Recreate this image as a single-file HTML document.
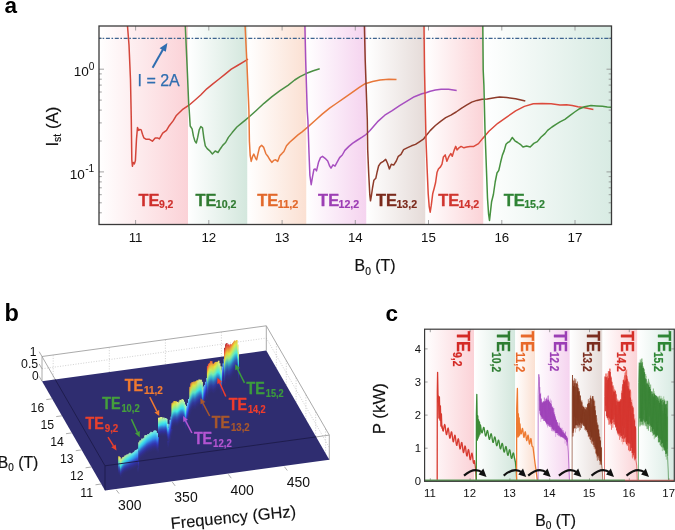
<!DOCTYPE html>
<html><head><meta charset="utf-8"><style>html,body{margin:0;padding:0;background:#fff;width:675px;height:530px;overflow:hidden}svg{display:block;will-change:transform;filter:blur(0.3px)}</style></head>
<body><svg width="675" height="530" viewBox="0 0 675 530"><defs><linearGradient id="ga0" x1="0" x2="1" y1="0" y2="0"><stop offset="0" stop-color="#ffffff"/><stop offset="1" stop-color="#fbd2d7"/></linearGradient><linearGradient id="ga1" x1="0" x2="1" y1="0" y2="0"><stop offset="0" stop-color="#ffffff"/><stop offset="1" stop-color="#d3e7dd"/></linearGradient><linearGradient id="ga2" x1="0" x2="1" y1="0" y2="0"><stop offset="0" stop-color="#ffffff"/><stop offset="1" stop-color="#fbe0d2"/></linearGradient><linearGradient id="ga3" x1="0" x2="1" y1="0" y2="0"><stop offset="0" stop-color="#ffffff"/><stop offset="1" stop-color="#f5d3ef"/></linearGradient><linearGradient id="ga4" x1="0" x2="1" y1="0" y2="0"><stop offset="0" stop-color="#ffffff"/><stop offset="1" stop-color="#e5dbd8"/></linearGradient><linearGradient id="ga5" x1="0" x2="1" y1="0" y2="0"><stop offset="0" stop-color="#ffffff"/><stop offset="1" stop-color="#fbd3d7"/></linearGradient><linearGradient id="ga6" x1="0" x2="1" y1="0" y2="0"><stop offset="0" stop-color="#ffffff"/><stop offset="1" stop-color="#d8ebe3"/></linearGradient><clipPath id="navyclip"><polygon points="105.0,490.5 329.3,459.8 266.3,350.5 42.0,381.2"/></clipPath><linearGradient id="s0" gradientUnits="userSpaceOnUse" x1="0" y1="452.9" x2="0" y2="472.9"><stop offset="0.00" stop-color="#71caf4"/><stop offset="0.12" stop-color="#57a8f2"/><stop offset="0.25" stop-color="#3e7ff0"/><stop offset="0.38" stop-color="#345bf0"/><stop offset="0.50" stop-color="#333bd1"/><stop offset="0.62" stop-color="#3231ac"/><stop offset="0.75" stop-color="#312f8d"/><stop offset="0.88" stop-color="#302e7a"/><stop offset="1.00" stop-color="#2f2d70"/></linearGradient><linearGradient id="s1" gradientUnits="userSpaceOnUse" x1="0" y1="452.1" x2="0" y2="472.1"><stop offset="0.00" stop-color="#71caf4"/><stop offset="0.12" stop-color="#57a8f2"/><stop offset="0.25" stop-color="#3e7ff0"/><stop offset="0.38" stop-color="#345bf0"/><stop offset="0.50" stop-color="#333bd1"/><stop offset="0.62" stop-color="#3231ac"/><stop offset="0.75" stop-color="#312f8d"/><stop offset="0.88" stop-color="#302e7a"/><stop offset="1.00" stop-color="#2f2d70"/></linearGradient><linearGradient id="s2" gradientUnits="userSpaceOnUse" x1="0" y1="433.5" x2="0" y2="453.5"><stop offset="0.00" stop-color="#71caf4"/><stop offset="0.12" stop-color="#57a8f2"/><stop offset="0.25" stop-color="#3e7ff0"/><stop offset="0.38" stop-color="#345bf0"/><stop offset="0.50" stop-color="#333bd1"/><stop offset="0.62" stop-color="#3231ac"/><stop offset="0.75" stop-color="#312f8d"/><stop offset="0.88" stop-color="#302e7a"/><stop offset="1.00" stop-color="#2f2d70"/></linearGradient><linearGradient id="s3" gradientUnits="userSpaceOnUse" x1="0" y1="429.2" x2="0" y2="449.2"><stop offset="0.00" stop-color="#71caf4"/><stop offset="0.12" stop-color="#57a8f2"/><stop offset="0.25" stop-color="#3e7ff0"/><stop offset="0.38" stop-color="#345bf0"/><stop offset="0.50" stop-color="#333bd1"/><stop offset="0.62" stop-color="#3231ac"/><stop offset="0.75" stop-color="#312f8d"/><stop offset="0.88" stop-color="#302e7a"/><stop offset="1.00" stop-color="#2f2d70"/></linearGradient><linearGradient id="s4" gradientUnits="userSpaceOnUse" x1="0" y1="428.1" x2="0" y2="448.1"><stop offset="0.00" stop-color="#71caf4"/><stop offset="0.12" stop-color="#57a8f2"/><stop offset="0.25" stop-color="#3e7ff0"/><stop offset="0.38" stop-color="#345bf0"/><stop offset="0.50" stop-color="#333bd1"/><stop offset="0.62" stop-color="#3231ac"/><stop offset="0.75" stop-color="#312f8d"/><stop offset="0.88" stop-color="#302e7a"/><stop offset="1.00" stop-color="#2f2d70"/></linearGradient><linearGradient id="s5" gradientUnits="userSpaceOnUse" x1="0" y1="424.3" x2="0" y2="444.3"><stop offset="0.00" stop-color="#71caf4"/><stop offset="0.12" stop-color="#57a8f2"/><stop offset="0.25" stop-color="#3e7ff0"/><stop offset="0.38" stop-color="#345bf0"/><stop offset="0.50" stop-color="#333bd1"/><stop offset="0.62" stop-color="#3231ac"/><stop offset="0.75" stop-color="#312f8d"/><stop offset="0.88" stop-color="#302e7a"/><stop offset="1.00" stop-color="#2f2d70"/></linearGradient><linearGradient id="s6" gradientUnits="userSpaceOnUse" x1="0" y1="420.5" x2="0" y2="440.5"><stop offset="0.00" stop-color="#71caf4"/><stop offset="0.12" stop-color="#57a8f2"/><stop offset="0.25" stop-color="#3e7ff0"/><stop offset="0.38" stop-color="#345bf0"/><stop offset="0.50" stop-color="#333bd1"/><stop offset="0.62" stop-color="#3231ac"/><stop offset="0.75" stop-color="#312f8d"/><stop offset="0.88" stop-color="#302e7a"/><stop offset="1.00" stop-color="#2f2d70"/></linearGradient><linearGradient id="s7" gradientUnits="userSpaceOnUse" x1="0" y1="416.7" x2="0" y2="436.7"><stop offset="0.00" stop-color="#71caf4"/><stop offset="0.12" stop-color="#57a8f2"/><stop offset="0.25" stop-color="#3e7ff0"/><stop offset="0.38" stop-color="#345bf0"/><stop offset="0.50" stop-color="#333bd1"/><stop offset="0.62" stop-color="#3231ac"/><stop offset="0.75" stop-color="#312f8d"/><stop offset="0.88" stop-color="#302e7a"/><stop offset="1.00" stop-color="#2f2d70"/></linearGradient><linearGradient id="s8" gradientUnits="userSpaceOnUse" x1="0" y1="414.4" x2="0" y2="434.4"><stop offset="0.00" stop-color="#71caf4"/><stop offset="0.12" stop-color="#57a8f2"/><stop offset="0.25" stop-color="#3e7ff0"/><stop offset="0.38" stop-color="#345bf0"/><stop offset="0.50" stop-color="#333bd1"/><stop offset="0.62" stop-color="#3231ac"/><stop offset="0.75" stop-color="#312f8d"/><stop offset="0.88" stop-color="#302e7a"/><stop offset="1.00" stop-color="#2f2d70"/></linearGradient><linearGradient id="s9" gradientUnits="userSpaceOnUse" x1="0" y1="410.3" x2="0" y2="430.3"><stop offset="0.00" stop-color="#71caf4"/><stop offset="0.12" stop-color="#57a8f2"/><stop offset="0.25" stop-color="#3e7ff0"/><stop offset="0.38" stop-color="#345bf0"/><stop offset="0.50" stop-color="#333bd1"/><stop offset="0.62" stop-color="#3231ac"/><stop offset="0.75" stop-color="#312f8d"/><stop offset="0.88" stop-color="#302e7a"/><stop offset="1.00" stop-color="#2f2d70"/></linearGradient><linearGradient id="s10" gradientUnits="userSpaceOnUse" x1="0" y1="406.8" x2="0" y2="426.8"><stop offset="0.00" stop-color="#71caf4"/><stop offset="0.12" stop-color="#57a8f2"/><stop offset="0.25" stop-color="#3e7ff0"/><stop offset="0.38" stop-color="#345bf0"/><stop offset="0.50" stop-color="#333bd1"/><stop offset="0.62" stop-color="#3231ac"/><stop offset="0.75" stop-color="#312f8d"/><stop offset="0.88" stop-color="#302e7a"/><stop offset="1.00" stop-color="#2f2d70"/></linearGradient><linearGradient id="s11" gradientUnits="userSpaceOnUse" x1="0" y1="403.3" x2="0" y2="423.3"><stop offset="0.00" stop-color="#71caf4"/><stop offset="0.12" stop-color="#57a8f2"/><stop offset="0.25" stop-color="#3e7ff0"/><stop offset="0.38" stop-color="#345bf0"/><stop offset="0.50" stop-color="#333bd1"/><stop offset="0.62" stop-color="#3231ac"/><stop offset="0.75" stop-color="#312f8d"/><stop offset="0.88" stop-color="#302e7a"/><stop offset="1.00" stop-color="#2f2d70"/></linearGradient><linearGradient id="s12" gradientUnits="userSpaceOnUse" x1="0" y1="399.8" x2="0" y2="419.8"><stop offset="0.00" stop-color="#71caf4"/><stop offset="0.12" stop-color="#57a8f2"/><stop offset="0.25" stop-color="#3e7ff0"/><stop offset="0.38" stop-color="#345bf0"/><stop offset="0.50" stop-color="#333bd1"/><stop offset="0.62" stop-color="#3231ac"/><stop offset="0.75" stop-color="#312f8d"/><stop offset="0.88" stop-color="#302e7a"/><stop offset="1.00" stop-color="#2f2d70"/></linearGradient><linearGradient id="s13" gradientUnits="userSpaceOnUse" x1="0" y1="397.0" x2="0" y2="417.0"><stop offset="0.00" stop-color="#71caf4"/><stop offset="0.12" stop-color="#57a8f2"/><stop offset="0.25" stop-color="#3e7ff0"/><stop offset="0.38" stop-color="#345bf0"/><stop offset="0.50" stop-color="#333bd1"/><stop offset="0.62" stop-color="#3231ac"/><stop offset="0.75" stop-color="#312f8d"/><stop offset="0.88" stop-color="#302e7a"/><stop offset="1.00" stop-color="#2f2d70"/></linearGradient><linearGradient id="s14" gradientUnits="userSpaceOnUse" x1="0" y1="390.4" x2="0" y2="410.4"><stop offset="0.00" stop-color="#71caf4"/><stop offset="0.12" stop-color="#57a8f2"/><stop offset="0.25" stop-color="#3e7ff0"/><stop offset="0.38" stop-color="#345bf0"/><stop offset="0.50" stop-color="#333bd1"/><stop offset="0.62" stop-color="#3231ac"/><stop offset="0.75" stop-color="#312f8d"/><stop offset="0.88" stop-color="#302e7a"/><stop offset="1.00" stop-color="#2f2d70"/></linearGradient><linearGradient id="s15" gradientUnits="userSpaceOnUse" x1="0" y1="387.3" x2="0" y2="407.3"><stop offset="0.00" stop-color="#71caf4"/><stop offset="0.12" stop-color="#57a8f2"/><stop offset="0.25" stop-color="#3e7ff0"/><stop offset="0.38" stop-color="#345bf0"/><stop offset="0.50" stop-color="#333bd1"/><stop offset="0.62" stop-color="#3231ac"/><stop offset="0.75" stop-color="#312f8d"/><stop offset="0.88" stop-color="#302e7a"/><stop offset="1.00" stop-color="#2f2d70"/></linearGradient><linearGradient id="s16" gradientUnits="userSpaceOnUse" x1="0" y1="384.2" x2="0" y2="404.2"><stop offset="0.00" stop-color="#71caf4"/><stop offset="0.12" stop-color="#57a8f2"/><stop offset="0.25" stop-color="#3e7ff0"/><stop offset="0.38" stop-color="#345bf0"/><stop offset="0.50" stop-color="#333bd1"/><stop offset="0.62" stop-color="#3231ac"/><stop offset="0.75" stop-color="#312f8d"/><stop offset="0.88" stop-color="#302e7a"/><stop offset="1.00" stop-color="#2f2d70"/></linearGradient><linearGradient id="s17" gradientUnits="userSpaceOnUse" x1="0" y1="381.0" x2="0" y2="401.0"><stop offset="0.00" stop-color="#71caf4"/><stop offset="0.12" stop-color="#57a8f2"/><stop offset="0.25" stop-color="#3e7ff0"/><stop offset="0.38" stop-color="#345bf0"/><stop offset="0.50" stop-color="#333bd1"/><stop offset="0.62" stop-color="#3231ac"/><stop offset="0.75" stop-color="#312f8d"/><stop offset="0.88" stop-color="#302e7a"/><stop offset="1.00" stop-color="#2f2d70"/></linearGradient><linearGradient id="s18" gradientUnits="userSpaceOnUse" x1="0" y1="377.9" x2="0" y2="397.9"><stop offset="0.00" stop-color="#71caf4"/><stop offset="0.12" stop-color="#57a8f2"/><stop offset="0.25" stop-color="#3e7ff0"/><stop offset="0.38" stop-color="#345bf0"/><stop offset="0.50" stop-color="#333bd1"/><stop offset="0.62" stop-color="#3231ac"/><stop offset="0.75" stop-color="#312f8d"/><stop offset="0.88" stop-color="#302e7a"/><stop offset="1.00" stop-color="#2f2d70"/></linearGradient><linearGradient id="s19" gradientUnits="userSpaceOnUse" x1="0" y1="376.2" x2="0" y2="396.2"><stop offset="0.00" stop-color="#71caf4"/><stop offset="0.12" stop-color="#57a8f2"/><stop offset="0.25" stop-color="#3e7ff0"/><stop offset="0.38" stop-color="#345bf0"/><stop offset="0.50" stop-color="#333bd1"/><stop offset="0.62" stop-color="#3231ac"/><stop offset="0.75" stop-color="#312f8d"/><stop offset="0.88" stop-color="#302e7a"/><stop offset="1.00" stop-color="#2f2d70"/></linearGradient><linearGradient id="s20" gradientUnits="userSpaceOnUse" x1="0" y1="371.9" x2="0" y2="391.9"><stop offset="0.00" stop-color="#71caf4"/><stop offset="0.12" stop-color="#57a8f2"/><stop offset="0.25" stop-color="#3e7ff0"/><stop offset="0.38" stop-color="#345bf0"/><stop offset="0.50" stop-color="#333bd1"/><stop offset="0.62" stop-color="#3231ac"/><stop offset="0.75" stop-color="#312f8d"/><stop offset="0.88" stop-color="#302e7a"/><stop offset="1.00" stop-color="#2f2d70"/></linearGradient><linearGradient id="s21" gradientUnits="userSpaceOnUse" x1="0" y1="367.7" x2="0" y2="387.7"><stop offset="0.00" stop-color="#71caf4"/><stop offset="0.12" stop-color="#57a8f2"/><stop offset="0.25" stop-color="#3e7ff0"/><stop offset="0.38" stop-color="#345bf0"/><stop offset="0.50" stop-color="#333bd1"/><stop offset="0.62" stop-color="#3231ac"/><stop offset="0.75" stop-color="#312f8d"/><stop offset="0.88" stop-color="#302e7a"/><stop offset="1.00" stop-color="#2f2d70"/></linearGradient><linearGradient id="s22" gradientUnits="userSpaceOnUse" x1="0" y1="363.5" x2="0" y2="383.5"><stop offset="0.00" stop-color="#71caf4"/><stop offset="0.12" stop-color="#57a8f2"/><stop offset="0.25" stop-color="#3e7ff0"/><stop offset="0.38" stop-color="#345bf0"/><stop offset="0.50" stop-color="#333bd1"/><stop offset="0.62" stop-color="#3231ac"/><stop offset="0.75" stop-color="#312f8d"/><stop offset="0.88" stop-color="#302e7a"/><stop offset="1.00" stop-color="#2f2d70"/></linearGradient><linearGradient id="s23" gradientUnits="userSpaceOnUse" x1="0" y1="359.7" x2="0" y2="379.7"><stop offset="0.00" stop-color="#71caf4"/><stop offset="0.12" stop-color="#57a8f2"/><stop offset="0.25" stop-color="#3e7ff0"/><stop offset="0.38" stop-color="#345bf0"/><stop offset="0.50" stop-color="#333bd1"/><stop offset="0.62" stop-color="#3231ac"/><stop offset="0.75" stop-color="#312f8d"/><stop offset="0.88" stop-color="#302e7a"/><stop offset="1.00" stop-color="#2f2d70"/></linearGradient><linearGradient id="s24" gradientUnits="userSpaceOnUse" x1="0" y1="456.9" x2="0" y2="474.4"><stop offset="0.00" stop-color="#ead03a"/><stop offset="0.12" stop-color="#c2ea62"/><stop offset="0.25" stop-color="#81eaa3"/><stop offset="0.38" stop-color="#41eae2"/><stop offset="0.50" stop-color="#3398d1"/><stop offset="0.62" stop-color="#3258b5"/><stop offset="0.75" stop-color="#31349d"/><stop offset="0.88" stop-color="#302e7f"/><stop offset="1.00" stop-color="#2f2d70"/></linearGradient><linearGradient id="s25" gradientUnits="userSpaceOnUse" x1="0" y1="457.8" x2="0" y2="475.3"><stop offset="0.00" stop-color="#f0e675"/><stop offset="0.12" stop-color="#c5ee85"/><stop offset="0.25" stop-color="#80ebaf"/><stop offset="0.38" stop-color="#3beae9"/><stop offset="0.50" stop-color="#3394d1"/><stop offset="0.62" stop-color="#3256b5"/><stop offset="0.75" stop-color="#31339d"/><stop offset="0.88" stop-color="#302e7e"/><stop offset="1.00" stop-color="#2f2d70"/></linearGradient><linearGradient id="s26" gradientUnits="userSpaceOnUse" x1="0" y1="460.3" x2="0" y2="477.8"><stop offset="0.00" stop-color="#f0ee75"/><stop offset="0.12" stop-color="#bdee8d"/><stop offset="0.25" stop-color="#78ebb7"/><stop offset="0.38" stop-color="#34eaef"/><stop offset="0.50" stop-color="#3390d1"/><stop offset="0.62" stop-color="#3254b5"/><stop offset="0.75" stop-color="#31329d"/><stop offset="0.88" stop-color="#302e7e"/><stop offset="1.00" stop-color="#2f2d70"/></linearGradient><linearGradient id="s27" gradientUnits="userSpaceOnUse" x1="0" y1="458.5" x2="0" y2="476.0"><stop offset="0.00" stop-color="#ebf07a"/><stop offset="0.12" stop-color="#b5ee95"/><stop offset="0.25" stop-color="#70ebbe"/><stop offset="0.38" stop-color="#34e4f0"/><stop offset="0.50" stop-color="#338cd1"/><stop offset="0.62" stop-color="#3252b5"/><stop offset="0.75" stop-color="#31329d"/><stop offset="0.88" stop-color="#302e7e"/><stop offset="1.00" stop-color="#2f2d70"/></linearGradient><linearGradient id="s28" gradientUnits="userSpaceOnUse" x1="0" y1="457.3" x2="0" y2="474.8"><stop offset="0.00" stop-color="#e3f082"/><stop offset="0.12" stop-color="#adee9d"/><stop offset="0.25" stop-color="#68ebc6"/><stop offset="0.38" stop-color="#34ddf0"/><stop offset="0.50" stop-color="#3388d1"/><stop offset="0.62" stop-color="#3250b5"/><stop offset="0.75" stop-color="#31319d"/><stop offset="0.88" stop-color="#302e7e"/><stop offset="1.00" stop-color="#2f2d70"/></linearGradient><linearGradient id="s29" gradientUnits="userSpaceOnUse" x1="0" y1="456.3" x2="0" y2="473.8"><stop offset="0.00" stop-color="#dbf08a"/><stop offset="0.12" stop-color="#a5eea5"/><stop offset="0.25" stop-color="#61ebce"/><stop offset="0.38" stop-color="#34d6f0"/><stop offset="0.50" stop-color="#3384d1"/><stop offset="0.62" stop-color="#324eb5"/><stop offset="0.75" stop-color="#31309d"/><stop offset="0.88" stop-color="#302e7e"/><stop offset="1.00" stop-color="#2f2d70"/></linearGradient><linearGradient id="s30" gradientUnits="userSpaceOnUse" x1="0" y1="455.6" x2="0" y2="473.1"><stop offset="0.00" stop-color="#d3f092"/><stop offset="0.12" stop-color="#9deead"/><stop offset="0.25" stop-color="#59ebd5"/><stop offset="0.38" stop-color="#34d0f0"/><stop offset="0.50" stop-color="#3380d1"/><stop offset="0.62" stop-color="#324cb5"/><stop offset="0.75" stop-color="#312f9c"/><stop offset="0.88" stop-color="#302e7d"/><stop offset="1.00" stop-color="#2f2d70"/></linearGradient><linearGradient id="s31" gradientUnits="userSpaceOnUse" x1="0" y1="455.1" x2="0" y2="472.6"><stop offset="0.00" stop-color="#cbf09a"/><stop offset="0.12" stop-color="#95eeb5"/><stop offset="0.25" stop-color="#51ebdd"/><stop offset="0.38" stop-color="#34c9f0"/><stop offset="0.50" stop-color="#337cd1"/><stop offset="0.62" stop-color="#324ab5"/><stop offset="0.75" stop-color="#312f9c"/><stop offset="0.88" stop-color="#302e7d"/><stop offset="1.00" stop-color="#2f2d70"/></linearGradient><linearGradient id="s32" gradientUnits="userSpaceOnUse" x1="0" y1="454.6" x2="0" y2="472.1"><stop offset="0.00" stop-color="#c4f0a1"/><stop offset="0.12" stop-color="#8deebd"/><stop offset="0.25" stop-color="#4aebe5"/><stop offset="0.38" stop-color="#34c2f0"/><stop offset="0.50" stop-color="#3378d1"/><stop offset="0.62" stop-color="#3248b5"/><stop offset="0.75" stop-color="#312f9b"/><stop offset="0.88" stop-color="#302e7d"/><stop offset="1.00" stop-color="#2f2d70"/></linearGradient><linearGradient id="s33" gradientUnits="userSpaceOnUse" x1="0" y1="454.2" x2="0" y2="471.7"><stop offset="0.00" stop-color="#bcf0a9"/><stop offset="0.12" stop-color="#85eec5"/><stop offset="0.25" stop-color="#42ebed"/><stop offset="0.38" stop-color="#34bcf0"/><stop offset="0.50" stop-color="#3374d1"/><stop offset="0.62" stop-color="#3246b5"/><stop offset="0.75" stop-color="#312f9a"/><stop offset="0.88" stop-color="#302e7d"/><stop offset="1.00" stop-color="#2f2d70"/></linearGradient><linearGradient id="s34" gradientUnits="userSpaceOnUse" x1="0" y1="453.8" x2="0" y2="471.3"><stop offset="0.00" stop-color="#b4f0b1"/><stop offset="0.12" stop-color="#7deecd"/><stop offset="0.25" stop-color="#3ee7f0"/><stop offset="0.38" stop-color="#34b5f0"/><stop offset="0.50" stop-color="#3370d1"/><stop offset="0.62" stop-color="#3243b5"/><stop offset="0.75" stop-color="#312f99"/><stop offset="0.88" stop-color="#302e7d"/><stop offset="1.00" stop-color="#2f2d70"/></linearGradient><linearGradient id="s35" gradientUnits="userSpaceOnUse" x1="0" y1="453.3" x2="0" y2="470.8"><stop offset="0.00" stop-color="#acf0b9"/><stop offset="0.12" stop-color="#75eed5"/><stop offset="0.25" stop-color="#3edff0"/><stop offset="0.38" stop-color="#34aef0"/><stop offset="0.50" stop-color="#336cd1"/><stop offset="0.62" stop-color="#3241b5"/><stop offset="0.75" stop-color="#312f98"/><stop offset="0.88" stop-color="#302e7c"/><stop offset="1.00" stop-color="#2f2d70"/></linearGradient><linearGradient id="s36" gradientUnits="userSpaceOnUse" x1="0" y1="452.9" x2="0" y2="470.4"><stop offset="0.00" stop-color="#a4f0c1"/><stop offset="0.12" stop-color="#6deedd"/><stop offset="0.25" stop-color="#3ed8f0"/><stop offset="0.38" stop-color="#34a8f0"/><stop offset="0.50" stop-color="#3368d1"/><stop offset="0.62" stop-color="#323fb5"/><stop offset="0.75" stop-color="#312f97"/><stop offset="0.88" stop-color="#302e7c"/><stop offset="1.00" stop-color="#2f2d70"/></linearGradient><linearGradient id="s37" gradientUnits="userSpaceOnUse" x1="0" y1="452.5" x2="0" y2="470.0"><stop offset="0.00" stop-color="#9df0c8"/><stop offset="0.12" stop-color="#65eee5"/><stop offset="0.25" stop-color="#3ed0f0"/><stop offset="0.38" stop-color="#34a1f0"/><stop offset="0.50" stop-color="#3364d1"/><stop offset="0.62" stop-color="#323db5"/><stop offset="0.75" stop-color="#312f96"/><stop offset="0.88" stop-color="#302e7c"/><stop offset="1.00" stop-color="#2f2d70"/></linearGradient><linearGradient id="s38" gradientUnits="userSpaceOnUse" x1="0" y1="452.1" x2="0" y2="469.6"><stop offset="0.00" stop-color="#95f0d0"/><stop offset="0.12" stop-color="#5deeec"/><stop offset="0.25" stop-color="#3ec8f0"/><stop offset="0.38" stop-color="#349af0"/><stop offset="0.50" stop-color="#3360d1"/><stop offset="0.62" stop-color="#323bb5"/><stop offset="0.75" stop-color="#312f96"/><stop offset="0.88" stop-color="#302e7c"/><stop offset="1.00" stop-color="#2f2d70"/></linearGradient><linearGradient id="s39" gradientUnits="userSpaceOnUse" x1="0" y1="451.6" x2="0" y2="469.1"><stop offset="0.00" stop-color="#8df0d8"/><stop offset="0.12" stop-color="#57ecf2"/><stop offset="0.25" stop-color="#3ec1f0"/><stop offset="0.38" stop-color="#3494f0"/><stop offset="0.50" stop-color="#335cd1"/><stop offset="0.62" stop-color="#3239b5"/><stop offset="0.75" stop-color="#312f95"/><stop offset="0.88" stop-color="#302e7c"/><stop offset="1.00" stop-color="#2f2d70"/></linearGradient><linearGradient id="s40" gradientUnits="userSpaceOnUse" x1="0" y1="451.1" x2="0" y2="468.6"><stop offset="0.00" stop-color="#85f0e0"/><stop offset="0.12" stop-color="#57e4f2"/><stop offset="0.25" stop-color="#3eb9f0"/><stop offset="0.38" stop-color="#348df0"/><stop offset="0.50" stop-color="#3358d1"/><stop offset="0.62" stop-color="#3237b5"/><stop offset="0.75" stop-color="#312f94"/><stop offset="0.88" stop-color="#302e7b"/><stop offset="1.00" stop-color="#2f2d70"/></linearGradient><linearGradient id="s41" gradientUnits="userSpaceOnUse" x1="0" y1="450.6" x2="0" y2="468.1"><stop offset="0.00" stop-color="#7df0e8"/><stop offset="0.12" stop-color="#57dcf2"/><stop offset="0.25" stop-color="#3eb1f0"/><stop offset="0.38" stop-color="#3486f0"/><stop offset="0.50" stop-color="#3354d1"/><stop offset="0.62" stop-color="#3235b5"/><stop offset="0.75" stop-color="#312f93"/><stop offset="0.88" stop-color="#302e7b"/><stop offset="1.00" stop-color="#2f2d70"/></linearGradient><linearGradient id="s42" gradientUnits="userSpaceOnUse" x1="0" y1="450.1" x2="0" y2="467.6"><stop offset="0.00" stop-color="#76f0ef"/><stop offset="0.12" stop-color="#57d4f2"/><stop offset="0.25" stop-color="#3ea9f0"/><stop offset="0.38" stop-color="#3480f0"/><stop offset="0.50" stop-color="#3350d1"/><stop offset="0.62" stop-color="#3233b5"/><stop offset="0.75" stop-color="#312f92"/><stop offset="0.88" stop-color="#302e7b"/><stop offset="1.00" stop-color="#2f2d70"/></linearGradient><linearGradient id="s43" gradientUnits="userSpaceOnUse" x1="0" y1="449.7" x2="0" y2="467.2"><stop offset="0.00" stop-color="#71edf4"/><stop offset="0.12" stop-color="#57ccf2"/><stop offset="0.25" stop-color="#3ea2f0"/><stop offset="0.38" stop-color="#3479f0"/><stop offset="0.50" stop-color="#334cd1"/><stop offset="0.62" stop-color="#3231b5"/><stop offset="0.75" stop-color="#312f91"/><stop offset="0.88" stop-color="#302e7b"/><stop offset="1.00" stop-color="#2f2d70"/></linearGradient><linearGradient id="s44" gradientUnits="userSpaceOnUse" x1="0" y1="441.9" x2="0" y2="460.6"><stop offset="0.00" stop-color="#caf09b"/><stop offset="0.12" stop-color="#93eeb6"/><stop offset="0.25" stop-color="#50ebdf"/><stop offset="0.38" stop-color="#34c8f0"/><stop offset="0.50" stop-color="#337bd1"/><stop offset="0.62" stop-color="#3249b5"/><stop offset="0.75" stop-color="#312f9b"/><stop offset="0.88" stop-color="#302e7d"/><stop offset="1.00" stop-color="#2f2d70"/></linearGradient><linearGradient id="s45" gradientUnits="userSpaceOnUse" x1="0" y1="440.9" x2="0" y2="459.7"><stop offset="0.00" stop-color="#c6f0a0"/><stop offset="0.12" stop-color="#8feebb"/><stop offset="0.25" stop-color="#4bebe3"/><stop offset="0.38" stop-color="#34c4f0"/><stop offset="0.50" stop-color="#3379d1"/><stop offset="0.62" stop-color="#3248b5"/><stop offset="0.75" stop-color="#312f9b"/><stop offset="0.88" stop-color="#302e7d"/><stop offset="1.00" stop-color="#2f2d70"/></linearGradient><linearGradient id="s46" gradientUnits="userSpaceOnUse" x1="0" y1="439.8" x2="0" y2="458.7"><stop offset="0.00" stop-color="#c1f0a4"/><stop offset="0.12" stop-color="#8aeebf"/><stop offset="0.25" stop-color="#47ebe7"/><stop offset="0.38" stop-color="#34c0f0"/><stop offset="0.50" stop-color="#3377d1"/><stop offset="0.62" stop-color="#3247b5"/><stop offset="0.75" stop-color="#312f9a"/><stop offset="0.88" stop-color="#302e7d"/><stop offset="1.00" stop-color="#2f2d70"/></linearGradient><linearGradient id="s47" gradientUnits="userSpaceOnUse" x1="0" y1="438.9" x2="0" y2="457.9"><stop offset="0.00" stop-color="#bdf0a8"/><stop offset="0.12" stop-color="#86eec4"/><stop offset="0.25" stop-color="#43ebec"/><stop offset="0.38" stop-color="#34bcf0"/><stop offset="0.50" stop-color="#3374d1"/><stop offset="0.62" stop-color="#3246b5"/><stop offset="0.75" stop-color="#312f9a"/><stop offset="0.88" stop-color="#302e7d"/><stop offset="1.00" stop-color="#2f2d70"/></linearGradient><linearGradient id="s48" gradientUnits="userSpaceOnUse" x1="0" y1="438.1" x2="0" y2="457.1"><stop offset="0.00" stop-color="#b8f0ad"/><stop offset="0.12" stop-color="#81eec9"/><stop offset="0.25" stop-color="#3eebf0"/><stop offset="0.38" stop-color="#34b8f0"/><stop offset="0.50" stop-color="#3372d1"/><stop offset="0.62" stop-color="#3245b5"/><stop offset="0.75" stop-color="#312f99"/><stop offset="0.88" stop-color="#302e7d"/><stop offset="1.00" stop-color="#2f2d70"/></linearGradient><linearGradient id="s49" gradientUnits="userSpaceOnUse" x1="0" y1="437.2" x2="0" y2="456.3"><stop offset="0.00" stop-color="#b4f0b1"/><stop offset="0.12" stop-color="#7deecd"/><stop offset="0.25" stop-color="#3ee7f0"/><stop offset="0.38" stop-color="#34b5f0"/><stop offset="0.50" stop-color="#3370d1"/><stop offset="0.62" stop-color="#3243b5"/><stop offset="0.75" stop-color="#312f99"/><stop offset="0.88" stop-color="#302e7d"/><stop offset="1.00" stop-color="#2f2d70"/></linearGradient><linearGradient id="s50" gradientUnits="userSpaceOnUse" x1="0" y1="436.4" x2="0" y2="455.6"><stop offset="0.00" stop-color="#aff0b6"/><stop offset="0.12" stop-color="#78eed2"/><stop offset="0.25" stop-color="#3ee2f0"/><stop offset="0.38" stop-color="#34b1f0"/><stop offset="0.50" stop-color="#336ed1"/><stop offset="0.62" stop-color="#3242b5"/><stop offset="0.75" stop-color="#312f98"/><stop offset="0.88" stop-color="#302e7d"/><stop offset="1.00" stop-color="#2f2d70"/></linearGradient><linearGradient id="s51" gradientUnits="userSpaceOnUse" x1="0" y1="435.6" x2="0" y2="454.8"><stop offset="0.00" stop-color="#abf0ba"/><stop offset="0.12" stop-color="#74eed6"/><stop offset="0.25" stop-color="#3edef0"/><stop offset="0.38" stop-color="#34adf0"/><stop offset="0.50" stop-color="#336bd1"/><stop offset="0.62" stop-color="#3241b5"/><stop offset="0.75" stop-color="#312f98"/><stop offset="0.88" stop-color="#302e7c"/><stop offset="1.00" stop-color="#2f2d70"/></linearGradient><linearGradient id="s52" gradientUnits="userSpaceOnUse" x1="0" y1="434.8" x2="0" y2="454.0"><stop offset="0.00" stop-color="#a6f0bf"/><stop offset="0.12" stop-color="#6feedb"/><stop offset="0.25" stop-color="#3edaf0"/><stop offset="0.38" stop-color="#34a9f0"/><stop offset="0.50" stop-color="#3369d1"/><stop offset="0.62" stop-color="#3240b5"/><stop offset="0.75" stop-color="#312f97"/><stop offset="0.88" stop-color="#302e7c"/><stop offset="1.00" stop-color="#2f2d70"/></linearGradient><linearGradient id="s53" gradientUnits="userSpaceOnUse" x1="0" y1="434.1" x2="0" y2="453.5"><stop offset="0.00" stop-color="#a2f0c3"/><stop offset="0.12" stop-color="#6beedf"/><stop offset="0.25" stop-color="#3ed5f0"/><stop offset="0.38" stop-color="#34a5f0"/><stop offset="0.50" stop-color="#3367d1"/><stop offset="0.62" stop-color="#323fb5"/><stop offset="0.75" stop-color="#312f97"/><stop offset="0.88" stop-color="#302e7c"/><stop offset="1.00" stop-color="#2f2d70"/></linearGradient><linearGradient id="s54" gradientUnits="userSpaceOnUse" x1="0" y1="433.6" x2="0" y2="453.0"><stop offset="0.00" stop-color="#9df0c8"/><stop offset="0.12" stop-color="#66eee4"/><stop offset="0.25" stop-color="#3ed1f0"/><stop offset="0.38" stop-color="#34a2f0"/><stop offset="0.50" stop-color="#3365d1"/><stop offset="0.62" stop-color="#323db5"/><stop offset="0.75" stop-color="#312f97"/><stop offset="0.88" stop-color="#302e7c"/><stop offset="1.00" stop-color="#2f2d70"/></linearGradient><linearGradient id="s55" gradientUnits="userSpaceOnUse" x1="0" y1="433.1" x2="0" y2="452.6"><stop offset="0.00" stop-color="#99f0cc"/><stop offset="0.12" stop-color="#61eee8"/><stop offset="0.25" stop-color="#3eccf0"/><stop offset="0.38" stop-color="#349ef0"/><stop offset="0.50" stop-color="#3362d1"/><stop offset="0.62" stop-color="#323cb5"/><stop offset="0.75" stop-color="#312f96"/><stop offset="0.88" stop-color="#302e7c"/><stop offset="1.00" stop-color="#2f2d70"/></linearGradient><linearGradient id="s56" gradientUnits="userSpaceOnUse" x1="0" y1="432.6" x2="0" y2="452.2"><stop offset="0.00" stop-color="#94f0d1"/><stop offset="0.12" stop-color="#5deeed"/><stop offset="0.25" stop-color="#3ec8f0"/><stop offset="0.38" stop-color="#349af0"/><stop offset="0.50" stop-color="#3360d1"/><stop offset="0.62" stop-color="#323bb5"/><stop offset="0.75" stop-color="#312f96"/><stop offset="0.88" stop-color="#302e7c"/><stop offset="1.00" stop-color="#2f2d70"/></linearGradient><linearGradient id="s57" gradientUnits="userSpaceOnUse" x1="0" y1="432.1" x2="0" y2="451.7"><stop offset="0.00" stop-color="#90f0d5"/><stop offset="0.12" stop-color="#58eef1"/><stop offset="0.25" stop-color="#3ec3f0"/><stop offset="0.38" stop-color="#3496f0"/><stop offset="0.50" stop-color="#335ed1"/><stop offset="0.62" stop-color="#323ab5"/><stop offset="0.75" stop-color="#312f95"/><stop offset="0.88" stop-color="#302e7c"/><stop offset="1.00" stop-color="#2f2d70"/></linearGradient><linearGradient id="s58" gradientUnits="userSpaceOnUse" x1="0" y1="431.6" x2="0" y2="451.3"><stop offset="0.00" stop-color="#8bf0da"/><stop offset="0.12" stop-color="#57eaf2"/><stop offset="0.25" stop-color="#3ebff0"/><stop offset="0.38" stop-color="#3492f0"/><stop offset="0.50" stop-color="#335bd1"/><stop offset="0.62" stop-color="#3239b5"/><stop offset="0.75" stop-color="#312f95"/><stop offset="0.88" stop-color="#302e7c"/><stop offset="1.00" stop-color="#2f2d70"/></linearGradient><linearGradient id="s59" gradientUnits="userSpaceOnUse" x1="0" y1="431.4" x2="0" y2="451.1"><stop offset="0.00" stop-color="#87f0de"/><stop offset="0.12" stop-color="#57e5f2"/><stop offset="0.25" stop-color="#3ebbf0"/><stop offset="0.38" stop-color="#348ff0"/><stop offset="0.50" stop-color="#3359d1"/><stop offset="0.62" stop-color="#3238b5"/><stop offset="0.75" stop-color="#312f94"/><stop offset="0.88" stop-color="#302e7c"/><stop offset="1.00" stop-color="#2f2d70"/></linearGradient><linearGradient id="s60" gradientUnits="userSpaceOnUse" x1="0" y1="431.2" x2="0" y2="450.9"><stop offset="0.00" stop-color="#83f0e3"/><stop offset="0.12" stop-color="#57e1f2"/><stop offset="0.25" stop-color="#3eb6f0"/><stop offset="0.38" stop-color="#348bf0"/><stop offset="0.50" stop-color="#3357d1"/><stop offset="0.62" stop-color="#3236b5"/><stop offset="0.75" stop-color="#312f94"/><stop offset="0.88" stop-color="#302e7b"/><stop offset="1.00" stop-color="#2f2d70"/></linearGradient><linearGradient id="s61" gradientUnits="userSpaceOnUse" x1="0" y1="431.2" x2="0" y2="451.0"><stop offset="0.00" stop-color="#7ef0e7"/><stop offset="0.12" stop-color="#57dcf2"/><stop offset="0.25" stop-color="#3eb2f0"/><stop offset="0.38" stop-color="#3487f0"/><stop offset="0.50" stop-color="#3355d1"/><stop offset="0.62" stop-color="#3235b5"/><stop offset="0.75" stop-color="#312f93"/><stop offset="0.88" stop-color="#302e7b"/><stop offset="1.00" stop-color="#2f2d70"/></linearGradient><linearGradient id="s62" gradientUnits="userSpaceOnUse" x1="0" y1="432.1" x2="0" y2="452.1"><stop offset="0.00" stop-color="#7af0eb"/><stop offset="0.12" stop-color="#57d8f2"/><stop offset="0.25" stop-color="#3eadf0"/><stop offset="0.38" stop-color="#3483f0"/><stop offset="0.50" stop-color="#3352d1"/><stop offset="0.62" stop-color="#3234b5"/><stop offset="0.75" stop-color="#312f93"/><stop offset="0.88" stop-color="#302e7b"/><stop offset="1.00" stop-color="#2f2d70"/></linearGradient><linearGradient id="s63" gradientUnits="userSpaceOnUse" x1="0" y1="432.8" x2="0" y2="452.8"><stop offset="0.00" stop-color="#75f0f0"/><stop offset="0.12" stop-color="#57d3f2"/><stop offset="0.25" stop-color="#3ea9f0"/><stop offset="0.38" stop-color="#347ff0"/><stop offset="0.50" stop-color="#3350d1"/><stop offset="0.62" stop-color="#3233b5"/><stop offset="0.75" stop-color="#312f92"/><stop offset="0.88" stop-color="#302e7b"/><stop offset="1.00" stop-color="#2f2d70"/></linearGradient><linearGradient id="s64" gradientUnits="userSpaceOnUse" x1="0" y1="418.5" x2="0" y2="437.2"><stop offset="0.00" stop-color="#eef077"/><stop offset="0.12" stop-color="#b8ee92"/><stop offset="0.25" stop-color="#73ebbb"/><stop offset="0.38" stop-color="#34e6f0"/><stop offset="0.50" stop-color="#338dd1"/><stop offset="0.62" stop-color="#3253b5"/><stop offset="0.75" stop-color="#31329d"/><stop offset="0.88" stop-color="#302e7e"/><stop offset="1.00" stop-color="#2f2d70"/></linearGradient><linearGradient id="s65" gradientUnits="userSpaceOnUse" x1="0" y1="418.2" x2="0" y2="436.8"><stop offset="0.00" stop-color="#e5f080"/><stop offset="0.12" stop-color="#afee9b"/><stop offset="0.25" stop-color="#6bebc4"/><stop offset="0.38" stop-color="#34dff0"/><stop offset="0.50" stop-color="#3389d1"/><stop offset="0.62" stop-color="#3250b5"/><stop offset="0.75" stop-color="#31319d"/><stop offset="0.88" stop-color="#302e7e"/><stop offset="1.00" stop-color="#2f2d70"/></linearGradient><linearGradient id="s66" gradientUnits="userSpaceOnUse" x1="0" y1="417.9" x2="0" y2="436.4"><stop offset="0.00" stop-color="#dcf089"/><stop offset="0.12" stop-color="#a6eea4"/><stop offset="0.25" stop-color="#62ebcc"/><stop offset="0.38" stop-color="#34d7f0"/><stop offset="0.50" stop-color="#3385d1"/><stop offset="0.62" stop-color="#324eb5"/><stop offset="0.75" stop-color="#31309d"/><stop offset="0.88" stop-color="#302e7e"/><stop offset="1.00" stop-color="#2f2d70"/></linearGradient><linearGradient id="s67" gradientUnits="userSpaceOnUse" x1="0" y1="417.9" x2="0" y2="436.2"><stop offset="0.00" stop-color="#d4f091"/><stop offset="0.12" stop-color="#9deead"/><stop offset="0.25" stop-color="#59ebd5"/><stop offset="0.38" stop-color="#34d0f0"/><stop offset="0.50" stop-color="#3380d1"/><stop offset="0.62" stop-color="#324cb5"/><stop offset="0.75" stop-color="#312f9c"/><stop offset="0.88" stop-color="#302e7d"/><stop offset="1.00" stop-color="#2f2d70"/></linearGradient><linearGradient id="s68" gradientUnits="userSpaceOnUse" x1="0" y1="417.9" x2="0" y2="436.2"><stop offset="0.00" stop-color="#cbf09a"/><stop offset="0.12" stop-color="#94eeb5"/><stop offset="0.25" stop-color="#51ebde"/><stop offset="0.38" stop-color="#34c9f0"/><stop offset="0.50" stop-color="#337cd1"/><stop offset="0.62" stop-color="#324ab5"/><stop offset="0.75" stop-color="#312f9b"/><stop offset="0.88" stop-color="#302e7d"/><stop offset="1.00" stop-color="#2f2d70"/></linearGradient><linearGradient id="s69" gradientUnits="userSpaceOnUse" x1="0" y1="418.2" x2="0" y2="436.3"><stop offset="0.00" stop-color="#c2f0a3"/><stop offset="0.12" stop-color="#8ceebe"/><stop offset="0.25" stop-color="#48ebe6"/><stop offset="0.38" stop-color="#34c1f0"/><stop offset="0.50" stop-color="#3377d1"/><stop offset="0.62" stop-color="#3247b5"/><stop offset="0.75" stop-color="#312f9b"/><stop offset="0.88" stop-color="#302e7d"/><stop offset="1.00" stop-color="#2f2d70"/></linearGradient><linearGradient id="s70" gradientUnits="userSpaceOnUse" x1="0" y1="418.3" x2="0" y2="436.3"><stop offset="0.00" stop-color="#baf0ab"/><stop offset="0.12" stop-color="#83eec7"/><stop offset="0.25" stop-color="#40ebef"/><stop offset="0.38" stop-color="#34baf0"/><stop offset="0.50" stop-color="#3373d1"/><stop offset="0.62" stop-color="#3245b5"/><stop offset="0.75" stop-color="#312f9a"/><stop offset="0.88" stop-color="#302e7d"/><stop offset="1.00" stop-color="#2f2d70"/></linearGradient><linearGradient id="s71" gradientUnits="userSpaceOnUse" x1="0" y1="418.2" x2="0" y2="436.1"><stop offset="0.00" stop-color="#b1f0b4"/><stop offset="0.12" stop-color="#7aeed0"/><stop offset="0.25" stop-color="#3ee4f0"/><stop offset="0.38" stop-color="#34b2f0"/><stop offset="0.50" stop-color="#336fd1"/><stop offset="0.62" stop-color="#3243b5"/><stop offset="0.75" stop-color="#312f99"/><stop offset="0.88" stop-color="#302e7d"/><stop offset="1.00" stop-color="#2f2d70"/></linearGradient><linearGradient id="s72" gradientUnits="userSpaceOnUse" x1="0" y1="419.6" x2="0" y2="437.4"><stop offset="0.00" stop-color="#a8f0bd"/><stop offset="0.12" stop-color="#71eed9"/><stop offset="0.25" stop-color="#3edcf0"/><stop offset="0.38" stop-color="#34abf0"/><stop offset="0.50" stop-color="#336ad1"/><stop offset="0.62" stop-color="#3240b5"/><stop offset="0.75" stop-color="#312f98"/><stop offset="0.88" stop-color="#302e7c"/><stop offset="1.00" stop-color="#2f2d70"/></linearGradient><linearGradient id="s73" gradientUnits="userSpaceOnUse" x1="0" y1="423.5" x2="0" y2="441.1"><stop offset="0.00" stop-color="#a0f0c5"/><stop offset="0.12" stop-color="#68eee1"/><stop offset="0.25" stop-color="#3ed3f0"/><stop offset="0.38" stop-color="#34a4f0"/><stop offset="0.50" stop-color="#3366d1"/><stop offset="0.62" stop-color="#323eb5"/><stop offset="0.75" stop-color="#312f97"/><stop offset="0.88" stop-color="#302e7c"/><stop offset="1.00" stop-color="#2f2d70"/></linearGradient><linearGradient id="s74" gradientUnits="userSpaceOnUse" x1="0" y1="404.0" x2="0" y2="429.0"><stop offset="0.00" stop-color="#eaa53a"/><stop offset="0.12" stop-color="#e8ea3c"/><stop offset="0.25" stop-color="#a1ea83"/><stop offset="0.38" stop-color="#5beac8"/><stop offset="0.50" stop-color="#33a7d1"/><stop offset="0.62" stop-color="#3260b5"/><stop offset="0.75" stop-color="#31389d"/><stop offset="0.88" stop-color="#302e7f"/><stop offset="1.00" stop-color="#2f2d70"/></linearGradient><linearGradient id="s75" gradientUnits="userSpaceOnUse" x1="0" y1="402.2" x2="0" y2="427.0"><stop offset="0.00" stop-color="#eaaf3a"/><stop offset="0.12" stop-color="#dfea45"/><stop offset="0.25" stop-color="#99ea8a"/><stop offset="0.38" stop-color="#55eace"/><stop offset="0.50" stop-color="#33a4d1"/><stop offset="0.62" stop-color="#325eb5"/><stop offset="0.75" stop-color="#31379d"/><stop offset="0.88" stop-color="#302e7f"/><stop offset="1.00" stop-color="#2f2d70"/></linearGradient><linearGradient id="s76" gradientUnits="userSpaceOnUse" x1="0" y1="401.8" x2="0" y2="426.4"><stop offset="0.00" stop-color="#eab93a"/><stop offset="0.12" stop-color="#d6ea4e"/><stop offset="0.25" stop-color="#92ea92"/><stop offset="0.38" stop-color="#4fead4"/><stop offset="0.50" stop-color="#33a0d1"/><stop offset="0.62" stop-color="#325cb5"/><stop offset="0.75" stop-color="#31369d"/><stop offset="0.88" stop-color="#302e7f"/><stop offset="1.00" stop-color="#2f2d70"/></linearGradient><linearGradient id="s77" gradientUnits="userSpaceOnUse" x1="0" y1="401.5" x2="0" y2="426.0"><stop offset="0.00" stop-color="#eac43a"/><stop offset="0.12" stop-color="#cdea57"/><stop offset="0.25" stop-color="#8aea99"/><stop offset="0.38" stop-color="#49eadb"/><stop offset="0.50" stop-color="#339cd1"/><stop offset="0.62" stop-color="#325ab5"/><stop offset="0.75" stop-color="#31359d"/><stop offset="0.88" stop-color="#302e7f"/><stop offset="1.00" stop-color="#2f2d70"/></linearGradient><linearGradient id="s78" gradientUnits="userSpaceOnUse" x1="0" y1="401.9" x2="0" y2="426.2"><stop offset="0.00" stop-color="#eace3a"/><stop offset="0.12" stop-color="#c4ea60"/><stop offset="0.25" stop-color="#83eaa1"/><stop offset="0.38" stop-color="#43eae1"/><stop offset="0.50" stop-color="#3399d1"/><stop offset="0.62" stop-color="#3259b5"/><stop offset="0.75" stop-color="#31349d"/><stop offset="0.88" stop-color="#302e7f"/><stop offset="1.00" stop-color="#2f2d70"/></linearGradient><linearGradient id="s79" gradientUnits="userSpaceOnUse" x1="0" y1="402.4" x2="0" y2="426.6"><stop offset="0.00" stop-color="#f0e475"/><stop offset="0.12" stop-color="#c7ee83"/><stop offset="0.25" stop-color="#82ebad"/><stop offset="0.38" stop-color="#3deae7"/><stop offset="0.50" stop-color="#3395d1"/><stop offset="0.62" stop-color="#3257b5"/><stop offset="0.75" stop-color="#31349d"/><stop offset="0.88" stop-color="#302e7e"/><stop offset="1.00" stop-color="#2f2d70"/></linearGradient><linearGradient id="s80" gradientUnits="userSpaceOnUse" x1="0" y1="401.8" x2="0" y2="425.8"><stop offset="0.00" stop-color="#f0eb75"/><stop offset="0.12" stop-color="#bfee8a"/><stop offset="0.25" stop-color="#7bebb4"/><stop offset="0.38" stop-color="#37eaed"/><stop offset="0.50" stop-color="#3391d1"/><stop offset="0.62" stop-color="#3255b5"/><stop offset="0.75" stop-color="#31339d"/><stop offset="0.88" stop-color="#302e7e"/><stop offset="1.00" stop-color="#2f2d70"/></linearGradient><linearGradient id="s81" gradientUnits="userSpaceOnUse" x1="0" y1="401.1" x2="0" y2="424.8"><stop offset="0.00" stop-color="#eef077"/><stop offset="0.12" stop-color="#b8ee92"/><stop offset="0.25" stop-color="#74ebbb"/><stop offset="0.38" stop-color="#34e6f0"/><stop offset="0.50" stop-color="#338ed1"/><stop offset="0.62" stop-color="#3253b5"/><stop offset="0.75" stop-color="#31329d"/><stop offset="0.88" stop-color="#302e7e"/><stop offset="1.00" stop-color="#2f2d70"/></linearGradient><linearGradient id="s82" gradientUnits="userSpaceOnUse" x1="0" y1="400.3" x2="0" y2="423.9"><stop offset="0.00" stop-color="#e7f07e"/><stop offset="0.12" stop-color="#b1ee99"/><stop offset="0.25" stop-color="#6cebc2"/><stop offset="0.38" stop-color="#34e0f0"/><stop offset="0.50" stop-color="#338ad1"/><stop offset="0.62" stop-color="#3251b5"/><stop offset="0.75" stop-color="#31319d"/><stop offset="0.88" stop-color="#302e7e"/><stop offset="1.00" stop-color="#2f2d70"/></linearGradient><linearGradient id="s83" gradientUnits="userSpaceOnUse" x1="0" y1="399.6" x2="0" y2="423.0"><stop offset="0.00" stop-color="#e0f085"/><stop offset="0.12" stop-color="#a9eea0"/><stop offset="0.25" stop-color="#65ebc9"/><stop offset="0.38" stop-color="#34daf0"/><stop offset="0.50" stop-color="#3386d1"/><stop offset="0.62" stop-color="#324fb5"/><stop offset="0.75" stop-color="#31309d"/><stop offset="0.88" stop-color="#302e7e"/><stop offset="1.00" stop-color="#2f2d70"/></linearGradient><linearGradient id="s84" gradientUnits="userSpaceOnUse" x1="0" y1="399.7" x2="0" y2="423.0"><stop offset="0.00" stop-color="#d8f08d"/><stop offset="0.12" stop-color="#a2eea8"/><stop offset="0.25" stop-color="#5eebd0"/><stop offset="0.38" stop-color="#34d4f0"/><stop offset="0.50" stop-color="#3383d1"/><stop offset="0.62" stop-color="#324db5"/><stop offset="0.75" stop-color="#31309d"/><stop offset="0.88" stop-color="#302e7e"/><stop offset="1.00" stop-color="#2f2d70"/></linearGradient><linearGradient id="s85" gradientUnits="userSpaceOnUse" x1="0" y1="400.0" x2="0" y2="423.0"><stop offset="0.00" stop-color="#d1f094"/><stop offset="0.12" stop-color="#9beeaf"/><stop offset="0.25" stop-color="#57ebd8"/><stop offset="0.38" stop-color="#34cef0"/><stop offset="0.50" stop-color="#337fd1"/><stop offset="0.62" stop-color="#324bb5"/><stop offset="0.75" stop-color="#312f9c"/><stop offset="0.88" stop-color="#302e7d"/><stop offset="1.00" stop-color="#2f2d70"/></linearGradient><linearGradient id="s86" gradientUnits="userSpaceOnUse" x1="0" y1="401.2" x2="0" y2="424.1"><stop offset="0.00" stop-color="#caf09b"/><stop offset="0.12" stop-color="#93eeb6"/><stop offset="0.25" stop-color="#50ebdf"/><stop offset="0.38" stop-color="#34c8f0"/><stop offset="0.50" stop-color="#337bd1"/><stop offset="0.62" stop-color="#3249b5"/><stop offset="0.75" stop-color="#312f9b"/><stop offset="0.88" stop-color="#302e7d"/><stop offset="1.00" stop-color="#2f2d70"/></linearGradient><linearGradient id="s87" gradientUnits="userSpaceOnUse" x1="0" y1="404.4" x2="0" y2="427.1"><stop offset="0.00" stop-color="#c3f0a2"/><stop offset="0.12" stop-color="#8ceebe"/><stop offset="0.25" stop-color="#49ebe6"/><stop offset="0.38" stop-color="#34c1f0"/><stop offset="0.50" stop-color="#3377d1"/><stop offset="0.62" stop-color="#3247b5"/><stop offset="0.75" stop-color="#312f9b"/><stop offset="0.88" stop-color="#302e7d"/><stop offset="1.00" stop-color="#2f2d70"/></linearGradient><linearGradient id="s88" gradientUnits="userSpaceOnUse" x1="0" y1="407.7" x2="0" y2="430.2"><stop offset="0.00" stop-color="#bbf0aa"/><stop offset="0.12" stop-color="#85eec5"/><stop offset="0.25" stop-color="#41ebed"/><stop offset="0.38" stop-color="#34bbf0"/><stop offset="0.50" stop-color="#3374d1"/><stop offset="0.62" stop-color="#3245b5"/><stop offset="0.75" stop-color="#312f9a"/><stop offset="0.88" stop-color="#302e7d"/><stop offset="1.00" stop-color="#2f2d70"/></linearGradient><linearGradient id="s89" gradientUnits="userSpaceOnUse" x1="0" y1="386.0" x2="0" y2="414.8"><stop offset="0.00" stop-color="#ea6b3a"/><stop offset="0.12" stop-color="#eaba3a"/><stop offset="0.25" stop-color="#cbea58"/><stop offset="0.38" stop-color="#7eeaa5"/><stop offset="0.50" stop-color="#33bcd1"/><stop offset="0.62" stop-color="#326bb5"/><stop offset="0.75" stop-color="#313c9d"/><stop offset="0.88" stop-color="#302e80"/><stop offset="1.00" stop-color="#2f2d70"/></linearGradient><linearGradient id="s90" gradientUnits="userSpaceOnUse" x1="0" y1="383.9" x2="0" y2="412.4"><stop offset="0.00" stop-color="#ea783a"/><stop offset="0.12" stop-color="#eac63a"/><stop offset="0.25" stop-color="#c1ea62"/><stop offset="0.38" stop-color="#76eaae"/><stop offset="0.50" stop-color="#33b7d1"/><stop offset="0.62" stop-color="#3268b5"/><stop offset="0.75" stop-color="#313b9d"/><stop offset="0.88" stop-color="#302e80"/><stop offset="1.00" stop-color="#2f2d70"/></linearGradient><linearGradient id="s91" gradientUnits="userSpaceOnUse" x1="0" y1="382.7" x2="0" y2="410.9"><stop offset="0.00" stop-color="#ea863a"/><stop offset="0.12" stop-color="#ead23a"/><stop offset="0.25" stop-color="#b7ea6c"/><stop offset="0.38" stop-color="#6eeab6"/><stop offset="0.50" stop-color="#33b2d1"/><stop offset="0.62" stop-color="#3266b5"/><stop offset="0.75" stop-color="#313a9d"/><stop offset="0.88" stop-color="#302e80"/><stop offset="1.00" stop-color="#2f2d70"/></linearGradient><linearGradient id="s92" gradientUnits="userSpaceOnUse" x1="0" y1="381.7" x2="0" y2="409.6"><stop offset="0.00" stop-color="#ea943a"/><stop offset="0.12" stop-color="#eade3a"/><stop offset="0.25" stop-color="#adea76"/><stop offset="0.38" stop-color="#66eabe"/><stop offset="0.50" stop-color="#33add1"/><stop offset="0.62" stop-color="#3263b5"/><stop offset="0.75" stop-color="#31399d"/><stop offset="0.88" stop-color="#302e80"/><stop offset="1.00" stop-color="#2f2d70"/></linearGradient><linearGradient id="s93" gradientUnits="userSpaceOnUse" x1="0" y1="381.9" x2="0" y2="409.5"><stop offset="0.00" stop-color="#eaa13a"/><stop offset="0.12" stop-color="#eae93a"/><stop offset="0.25" stop-color="#a3ea80"/><stop offset="0.38" stop-color="#5eeac6"/><stop offset="0.50" stop-color="#33a8d1"/><stop offset="0.62" stop-color="#3261b5"/><stop offset="0.75" stop-color="#31389d"/><stop offset="0.88" stop-color="#302e7f"/><stop offset="1.00" stop-color="#2f2d70"/></linearGradient><linearGradient id="s94" gradientUnits="userSpaceOnUse" x1="0" y1="382.4" x2="0" y2="409.7"><stop offset="0.00" stop-color="#eaaf3a"/><stop offset="0.12" stop-color="#dfea45"/><stop offset="0.25" stop-color="#99ea8a"/><stop offset="0.38" stop-color="#55eace"/><stop offset="0.50" stop-color="#33a4d1"/><stop offset="0.62" stop-color="#325eb5"/><stop offset="0.75" stop-color="#31379d"/><stop offset="0.88" stop-color="#302e7f"/><stop offset="1.00" stop-color="#2f2d70"/></linearGradient><linearGradient id="s95" gradientUnits="userSpaceOnUse" x1="0" y1="381.9" x2="0" y2="409.0"><stop offset="0.00" stop-color="#eabd3a"/><stop offset="0.12" stop-color="#d3ea51"/><stop offset="0.25" stop-color="#90ea94"/><stop offset="0.38" stop-color="#4dead6"/><stop offset="0.50" stop-color="#339fd1"/><stop offset="0.62" stop-color="#325cb5"/><stop offset="0.75" stop-color="#31369d"/><stop offset="0.88" stop-color="#302e7f"/><stop offset="1.00" stop-color="#2f2d70"/></linearGradient><linearGradient id="s96" gradientUnits="userSpaceOnUse" x1="0" y1="381.1" x2="0" y2="407.9"><stop offset="0.00" stop-color="#eaca3a"/><stop offset="0.12" stop-color="#c7ea5d"/><stop offset="0.25" stop-color="#86ea9e"/><stop offset="0.38" stop-color="#45eadf"/><stop offset="0.50" stop-color="#339ad1"/><stop offset="0.62" stop-color="#3259b5"/><stop offset="0.75" stop-color="#31359d"/><stop offset="0.88" stop-color="#302e7f"/><stop offset="1.00" stop-color="#2f2d70"/></linearGradient><linearGradient id="s97" gradientUnits="userSpaceOnUse" x1="0" y1="380.6" x2="0" y2="407.1"><stop offset="0.00" stop-color="#f0e475"/><stop offset="0.12" stop-color="#c7ee83"/><stop offset="0.25" stop-color="#82ebac"/><stop offset="0.38" stop-color="#3deae7"/><stop offset="0.50" stop-color="#3395d1"/><stop offset="0.62" stop-color="#3257b5"/><stop offset="0.75" stop-color="#31349d"/><stop offset="0.88" stop-color="#302e7e"/><stop offset="1.00" stop-color="#2f2d70"/></linearGradient><linearGradient id="s98" gradientUnits="userSpaceOnUse" x1="0" y1="380.1" x2="0" y2="406.3"><stop offset="0.00" stop-color="#f0ed75"/><stop offset="0.12" stop-color="#bdee8c"/><stop offset="0.25" stop-color="#79ebb6"/><stop offset="0.38" stop-color="#35eaef"/><stop offset="0.50" stop-color="#3390d1"/><stop offset="0.62" stop-color="#3254b5"/><stop offset="0.75" stop-color="#31339d"/><stop offset="0.88" stop-color="#302e7e"/><stop offset="1.00" stop-color="#2f2d70"/></linearGradient><linearGradient id="s99" gradientUnits="userSpaceOnUse" x1="0" y1="379.7" x2="0" y2="405.7"><stop offset="0.00" stop-color="#eaf07b"/><stop offset="0.12" stop-color="#b4ee96"/><stop offset="0.25" stop-color="#6febbf"/><stop offset="0.38" stop-color="#34e3f0"/><stop offset="0.50" stop-color="#338bd1"/><stop offset="0.62" stop-color="#3252b5"/><stop offset="0.75" stop-color="#31329d"/><stop offset="0.88" stop-color="#302e7e"/><stop offset="1.00" stop-color="#2f2d70"/></linearGradient><linearGradient id="s100" gradientUnits="userSpaceOnUse" x1="0" y1="380.1" x2="0" y2="405.7"><stop offset="0.00" stop-color="#e0f085"/><stop offset="0.12" stop-color="#aaeea0"/><stop offset="0.25" stop-color="#66ebc9"/><stop offset="0.38" stop-color="#34daf0"/><stop offset="0.50" stop-color="#3386d1"/><stop offset="0.62" stop-color="#324fb5"/><stop offset="0.75" stop-color="#31309d"/><stop offset="0.88" stop-color="#302e7e"/><stop offset="1.00" stop-color="#2f2d70"/></linearGradient><linearGradient id="s101" gradientUnits="userSpaceOnUse" x1="0" y1="382.0" x2="0" y2="407.4"><stop offset="0.00" stop-color="#d6f08f"/><stop offset="0.12" stop-color="#a0eeaa"/><stop offset="0.25" stop-color="#5cebd2"/><stop offset="0.38" stop-color="#34d2f0"/><stop offset="0.50" stop-color="#3382d1"/><stop offset="0.62" stop-color="#324db5"/><stop offset="0.75" stop-color="#312f9d"/><stop offset="0.88" stop-color="#302e7d"/><stop offset="1.00" stop-color="#2f2d70"/></linearGradient><linearGradient id="s102" gradientUnits="userSpaceOnUse" x1="0" y1="386.9" x2="0" y2="412.0"><stop offset="0.00" stop-color="#cdf098"/><stop offset="0.12" stop-color="#96eeb3"/><stop offset="0.25" stop-color="#53ebdc"/><stop offset="0.38" stop-color="#34caf0"/><stop offset="0.50" stop-color="#337dd1"/><stop offset="0.62" stop-color="#324ab5"/><stop offset="0.75" stop-color="#312f9c"/><stop offset="0.88" stop-color="#302e7d"/><stop offset="1.00" stop-color="#2f2d70"/></linearGradient><linearGradient id="s103" gradientUnits="userSpaceOnUse" x1="0" y1="366.0" x2="0" y2="398.5"><stop offset="0.00" stop-color="#e6343a"/><stop offset="0.12" stop-color="#ea883a"/><stop offset="0.25" stop-color="#eade3a"/><stop offset="0.38" stop-color="#a1ea83"/><stop offset="0.50" stop-color="#46bdbe"/><stop offset="0.62" stop-color="#3276b5"/><stop offset="0.75" stop-color="#31409d"/><stop offset="0.88" stop-color="#302e81"/><stop offset="1.00" stop-color="#2f2d70"/></linearGradient><linearGradient id="s104" gradientUnits="userSpaceOnUse" x1="0" y1="363.8" x2="0" y2="396.0"><stop offset="0.00" stop-color="#ea403a"/><stop offset="0.12" stop-color="#ea953a"/><stop offset="0.25" stop-color="#eae93a"/><stop offset="0.38" stop-color="#98ea8c"/><stop offset="0.50" stop-color="#41bdc3"/><stop offset="0.62" stop-color="#3273b5"/><stop offset="0.75" stop-color="#313f9d"/><stop offset="0.88" stop-color="#302e81"/><stop offset="1.00" stop-color="#2f2d70"/></linearGradient><linearGradient id="s105" gradientUnits="userSpaceOnUse" x1="0" y1="362.3" x2="0" y2="394.1"><stop offset="0.00" stop-color="#ea4f3a"/><stop offset="0.12" stop-color="#eaa33a"/><stop offset="0.25" stop-color="#dfea44"/><stop offset="0.38" stop-color="#8eea95"/><stop offset="0.50" stop-color="#3bbdc9"/><stop offset="0.62" stop-color="#3270b5"/><stop offset="0.75" stop-color="#313e9d"/><stop offset="0.88" stop-color="#302e81"/><stop offset="1.00" stop-color="#2f2d70"/></linearGradient><linearGradient id="s106" gradientUnits="userSpaceOnUse" x1="0" y1="361.8" x2="0" y2="393.2"><stop offset="0.00" stop-color="#ea5f3a"/><stop offset="0.12" stop-color="#eab03a"/><stop offset="0.25" stop-color="#d4ea50"/><stop offset="0.38" stop-color="#85ea9e"/><stop offset="0.50" stop-color="#36bdce"/><stop offset="0.62" stop-color="#326db5"/><stop offset="0.75" stop-color="#313d9d"/><stop offset="0.88" stop-color="#302e81"/><stop offset="1.00" stop-color="#2f2d70"/></linearGradient><linearGradient id="s107" gradientUnits="userSpaceOnUse" x1="0" y1="361.9" x2="0" y2="393.0"><stop offset="0.00" stop-color="#ea6e3a"/><stop offset="0.12" stop-color="#eabd3a"/><stop offset="0.25" stop-color="#c9ea5b"/><stop offset="0.38" stop-color="#7ceaa8"/><stop offset="0.50" stop-color="#33bbd1"/><stop offset="0.62" stop-color="#326ab5"/><stop offset="0.75" stop-color="#313c9d"/><stop offset="0.88" stop-color="#302e80"/><stop offset="1.00" stop-color="#2f2d70"/></linearGradient><linearGradient id="s108" gradientUnits="userSpaceOnUse" x1="0" y1="362.9" x2="0" y2="393.6"><stop offset="0.00" stop-color="#ea7e3a"/><stop offset="0.12" stop-color="#eacb3a"/><stop offset="0.25" stop-color="#bdea66"/><stop offset="0.38" stop-color="#73eab1"/><stop offset="0.50" stop-color="#33b5d1"/><stop offset="0.62" stop-color="#3267b5"/><stop offset="0.75" stop-color="#313a9d"/><stop offset="0.88" stop-color="#302e80"/><stop offset="1.00" stop-color="#2f2d70"/></linearGradient><linearGradient id="s109" gradientUnits="userSpaceOnUse" x1="0" y1="363.4" x2="0" y2="393.8"><stop offset="0.00" stop-color="#ea8d3a"/><stop offset="0.12" stop-color="#ead83a"/><stop offset="0.25" stop-color="#b2ea72"/><stop offset="0.38" stop-color="#6aeaba"/><stop offset="0.50" stop-color="#33b0d1"/><stop offset="0.62" stop-color="#3265b5"/><stop offset="0.75" stop-color="#31399d"/><stop offset="0.88" stop-color="#302e80"/><stop offset="1.00" stop-color="#2f2d70"/></linearGradient><linearGradient id="s110" gradientUnits="userSpaceOnUse" x1="0" y1="363.1" x2="0" y2="393.2"><stop offset="0.00" stop-color="#ea9d3a"/><stop offset="0.12" stop-color="#eae53a"/><stop offset="0.25" stop-color="#a7ea7d"/><stop offset="0.38" stop-color="#60eac3"/><stop offset="0.50" stop-color="#33aad1"/><stop offset="0.62" stop-color="#3262b5"/><stop offset="0.75" stop-color="#31389d"/><stop offset="0.88" stop-color="#302e7f"/><stop offset="1.00" stop-color="#2f2d70"/></linearGradient><linearGradient id="s111" gradientUnits="userSpaceOnUse" x1="0" y1="362.6" x2="0" y2="392.3"><stop offset="0.00" stop-color="#eaac3a"/><stop offset="0.12" stop-color="#e1ea42"/><stop offset="0.25" stop-color="#9bea88"/><stop offset="0.38" stop-color="#57eacd"/><stop offset="0.50" stop-color="#33a5d1"/><stop offset="0.62" stop-color="#325fb5"/><stop offset="0.75" stop-color="#31379d"/><stop offset="0.88" stop-color="#302e7f"/><stop offset="1.00" stop-color="#2f2d70"/></linearGradient><linearGradient id="s112" gradientUnits="userSpaceOnUse" x1="0" y1="361.6" x2="0" y2="390.9"><stop offset="0.00" stop-color="#eabc3a"/><stop offset="0.12" stop-color="#d4ea50"/><stop offset="0.25" stop-color="#90ea93"/><stop offset="0.38" stop-color="#4eead6"/><stop offset="0.50" stop-color="#339fd1"/><stop offset="0.62" stop-color="#325cb5"/><stop offset="0.75" stop-color="#31369d"/><stop offset="0.88" stop-color="#302e7f"/><stop offset="1.00" stop-color="#2f2d70"/></linearGradient><linearGradient id="s113" gradientUnits="userSpaceOnUse" x1="0" y1="361.1" x2="0" y2="390.1"><stop offset="0.00" stop-color="#eacb3a"/><stop offset="0.12" stop-color="#c6ea5d"/><stop offset="0.25" stop-color="#85ea9f"/><stop offset="0.38" stop-color="#45eadf"/><stop offset="0.50" stop-color="#339ad1"/><stop offset="0.62" stop-color="#3259b5"/><stop offset="0.75" stop-color="#31359d"/><stop offset="0.88" stop-color="#302e7f"/><stop offset="1.00" stop-color="#2f2d70"/></linearGradient><linearGradient id="s114" gradientUnits="userSpaceOnUse" x1="0" y1="361.4" x2="0" y2="389.9"><stop offset="0.00" stop-color="#f0e675"/><stop offset="0.12" stop-color="#c5ee85"/><stop offset="0.25" stop-color="#80ebae"/><stop offset="0.38" stop-color="#3beae8"/><stop offset="0.50" stop-color="#3394d1"/><stop offset="0.62" stop-color="#3256b5"/><stop offset="0.75" stop-color="#31339d"/><stop offset="0.88" stop-color="#302e7e"/><stop offset="1.00" stop-color="#2f2d70"/></linearGradient><linearGradient id="s115" gradientUnits="userSpaceOnUse" x1="0" y1="362.6" x2="0" y2="390.8"><stop offset="0.00" stop-color="#f0f075"/><stop offset="0.12" stop-color="#baee90"/><stop offset="0.25" stop-color="#76ebb9"/><stop offset="0.38" stop-color="#34e8f0"/><stop offset="0.50" stop-color="#338fd1"/><stop offset="0.62" stop-color="#3253b5"/><stop offset="0.75" stop-color="#31329d"/><stop offset="0.88" stop-color="#302e7e"/><stop offset="1.00" stop-color="#2f2d70"/></linearGradient><linearGradient id="s116" gradientUnits="userSpaceOnUse" x1="0" y1="365.7" x2="0" y2="393.6"><stop offset="0.00" stop-color="#e5f080"/><stop offset="0.12" stop-color="#afee9b"/><stop offset="0.25" stop-color="#6bebc4"/><stop offset="0.38" stop-color="#34dff0"/><stop offset="0.50" stop-color="#3389d1"/><stop offset="0.62" stop-color="#3250b5"/><stop offset="0.75" stop-color="#31319d"/><stop offset="0.88" stop-color="#302e7e"/><stop offset="1.00" stop-color="#2f2d70"/></linearGradient><linearGradient id="s117" gradientUnits="userSpaceOnUse" x1="0" y1="369.6" x2="0" y2="397.2"><stop offset="0.00" stop-color="#daf08b"/><stop offset="0.12" stop-color="#a4eea6"/><stop offset="0.25" stop-color="#60ebce"/><stop offset="0.38" stop-color="#34d6f0"/><stop offset="0.50" stop-color="#3384d1"/><stop offset="0.62" stop-color="#324eb5"/><stop offset="0.75" stop-color="#31309d"/><stop offset="0.88" stop-color="#302e7e"/><stop offset="1.00" stop-color="#2f2d70"/></linearGradient><linearGradient id="s118" gradientUnits="userSpaceOnUse" x1="0" y1="348.0" x2="0" y2="385.5"><stop offset="0.00" stop-color="#a5343a"/><stop offset="0.12" stop-color="#ea4f3a"/><stop offset="0.25" stop-color="#eaae3a"/><stop offset="0.38" stop-color="#c8ea5c"/><stop offset="0.50" stop-color="#5ebda6"/><stop offset="0.62" stop-color="#3282b5"/><stop offset="0.75" stop-color="#31459d"/><stop offset="0.88" stop-color="#302e82"/><stop offset="1.00" stop-color="#2f2d70"/></linearGradient><linearGradient id="s119" gradientUnits="userSpaceOnUse" x1="0" y1="345.0" x2="0" y2="382.0"><stop offset="0.00" stop-color="#b7343a"/><stop offset="0.12" stop-color="#ea5f3a"/><stop offset="0.25" stop-color="#eabb3a"/><stop offset="0.38" stop-color="#bdea66"/><stop offset="0.50" stop-color="#57bdad"/><stop offset="0.62" stop-color="#327fb5"/><stop offset="0.75" stop-color="#31449d"/><stop offset="0.88" stop-color="#302e82"/><stop offset="1.00" stop-color="#2f2d70"/></linearGradient><linearGradient id="s120" gradientUnits="userSpaceOnUse" x1="0" y1="344.0" x2="0" y2="380.5"><stop offset="0.00" stop-color="#c8343a"/><stop offset="0.12" stop-color="#ea6e3a"/><stop offset="0.25" stop-color="#eac83a"/><stop offset="0.38" stop-color="#b3ea71"/><stop offset="0.50" stop-color="#51bdb3"/><stop offset="0.62" stop-color="#327bb5"/><stop offset="0.75" stop-color="#31439d"/><stop offset="0.88" stop-color="#302e82"/><stop offset="1.00" stop-color="#2f2d70"/></linearGradient><linearGradient id="s121" gradientUnits="userSpaceOnUse" x1="0" y1="344.0" x2="0" y2="379.9"><stop offset="0.00" stop-color="#da343a"/><stop offset="0.12" stop-color="#ea7d3a"/><stop offset="0.25" stop-color="#ead53a"/><stop offset="0.38" stop-color="#a8ea7b"/><stop offset="0.50" stop-color="#4bbdb9"/><stop offset="0.62" stop-color="#3278b5"/><stop offset="0.75" stop-color="#31419d"/><stop offset="0.88" stop-color="#302e82"/><stop offset="1.00" stop-color="#2f2d70"/></linearGradient><linearGradient id="s122" gradientUnits="userSpaceOnUse" x1="0" y1="345.0" x2="0" y2="380.4"><stop offset="0.00" stop-color="#ea363a"/><stop offset="0.12" stop-color="#ea8d3a"/><stop offset="0.25" stop-color="#eae23a"/><stop offset="0.38" stop-color="#9eea86"/><stop offset="0.50" stop-color="#44bdc0"/><stop offset="0.62" stop-color="#3275b5"/><stop offset="0.75" stop-color="#31409d"/><stop offset="0.88" stop-color="#302e81"/><stop offset="1.00" stop-color="#2f2d70"/></linearGradient><linearGradient id="s123" gradientUnits="userSpaceOnUse" x1="0" y1="345.2" x2="0" y2="380.1"><stop offset="0.00" stop-color="#ea483a"/><stop offset="0.12" stop-color="#ea9c3a"/><stop offset="0.25" stop-color="#e5ea3f"/><stop offset="0.38" stop-color="#93ea91"/><stop offset="0.50" stop-color="#3ebdc6"/><stop offset="0.62" stop-color="#3271b5"/><stop offset="0.75" stop-color="#313f9d"/><stop offset="0.88" stop-color="#302e81"/><stop offset="1.00" stop-color="#2f2d70"/></linearGradient><linearGradient id="s124" gradientUnits="userSpaceOnUse" x1="0" y1="344.8" x2="0" y2="379.1"><stop offset="0.00" stop-color="#ea5a3a"/><stop offset="0.12" stop-color="#eaac3a"/><stop offset="0.25" stop-color="#d8ea4c"/><stop offset="0.38" stop-color="#88ea9b"/><stop offset="0.50" stop-color="#38bdcc"/><stop offset="0.62" stop-color="#326eb5"/><stop offset="0.75" stop-color="#313d9d"/><stop offset="0.88" stop-color="#302e81"/><stop offset="1.00" stop-color="#2f2d70"/></linearGradient><linearGradient id="s125" gradientUnits="userSpaceOnUse" x1="0" y1="344.0" x2="0" y2="377.8"><stop offset="0.00" stop-color="#ea6b3a"/><stop offset="0.12" stop-color="#eabb3a"/><stop offset="0.25" stop-color="#cbea59"/><stop offset="0.38" stop-color="#7eeaa6"/><stop offset="0.50" stop-color="#33bcd1"/><stop offset="0.62" stop-color="#326bb5"/><stop offset="0.75" stop-color="#313c9d"/><stop offset="0.88" stop-color="#302e80"/><stop offset="1.00" stop-color="#2f2d70"/></linearGradient><linearGradient id="s126" gradientUnits="userSpaceOnUse" x1="0" y1="343.0" x2="0" y2="376.3"><stop offset="0.00" stop-color="#ea7d3a"/><stop offset="0.12" stop-color="#eaca3a"/><stop offset="0.25" stop-color="#beea66"/><stop offset="0.38" stop-color="#73eab1"/><stop offset="0.50" stop-color="#33b5d1"/><stop offset="0.62" stop-color="#3267b5"/><stop offset="0.75" stop-color="#313b9d"/><stop offset="0.88" stop-color="#302e80"/><stop offset="1.00" stop-color="#2f2d70"/></linearGradient><linearGradient id="s127" gradientUnits="userSpaceOnUse" x1="0" y1="342.1" x2="0" y2="374.9"><stop offset="0.00" stop-color="#ea8f3a"/><stop offset="0.12" stop-color="#eada3a"/><stop offset="0.25" stop-color="#b1ea73"/><stop offset="0.38" stop-color="#68eabb"/><stop offset="0.50" stop-color="#33afd1"/><stop offset="0.62" stop-color="#3264b5"/><stop offset="0.75" stop-color="#31399d"/><stop offset="0.88" stop-color="#302e80"/><stop offset="1.00" stop-color="#2f2d70"/></linearGradient><linearGradient id="s128" gradientUnits="userSpaceOnUse" x1="0" y1="341.2" x2="0" y2="373.5"><stop offset="0.00" stop-color="#eaa13a"/><stop offset="0.12" stop-color="#eae93a"/><stop offset="0.25" stop-color="#a4ea80"/><stop offset="0.38" stop-color="#5eeac6"/><stop offset="0.50" stop-color="#33a9d1"/><stop offset="0.62" stop-color="#3261b5"/><stop offset="0.75" stop-color="#31389d"/><stop offset="0.88" stop-color="#302e7f"/><stop offset="1.00" stop-color="#2f2d70"/></linearGradient><linearGradient id="s129" gradientUnits="userSpaceOnUse" x1="0" y1="340.9" x2="0" y2="372.6"><stop offset="0.00" stop-color="#eab33a"/><stop offset="0.12" stop-color="#dbea48"/><stop offset="0.25" stop-color="#97ea8d"/><stop offset="0.38" stop-color="#53ead0"/><stop offset="0.50" stop-color="#33a2d1"/><stop offset="0.62" stop-color="#325eb5"/><stop offset="0.75" stop-color="#31369d"/><stop offset="0.88" stop-color="#302e7f"/><stop offset="1.00" stop-color="#2f2d70"/></linearGradient><linearGradient id="s130" gradientUnits="userSpaceOnUse" x1="0" y1="341.0" x2="0" y2="372.2"><stop offset="0.00" stop-color="#eac53a"/><stop offset="0.12" stop-color="#ccea58"/><stop offset="0.25" stop-color="#8aea9a"/><stop offset="0.38" stop-color="#48eadb"/><stop offset="0.50" stop-color="#339cd1"/><stop offset="0.62" stop-color="#325ab5"/><stop offset="0.75" stop-color="#31359d"/><stop offset="0.88" stop-color="#302e7f"/><stop offset="1.00" stop-color="#2f2d70"/></linearGradient><linearGradient id="s131" gradientUnits="userSpaceOnUse" x1="0" y1="345.1" x2="0" y2="375.8"><stop offset="0.00" stop-color="#f0e375"/><stop offset="0.12" stop-color="#c8ee82"/><stop offset="0.25" stop-color="#83ebab"/><stop offset="0.38" stop-color="#3eeae6"/><stop offset="0.50" stop-color="#3396d1"/><stop offset="0.62" stop-color="#3257b5"/><stop offset="0.75" stop-color="#31349d"/><stop offset="0.88" stop-color="#302e7e"/><stop offset="1.00" stop-color="#2f2d70"/></linearGradient><linearGradient id="s132" gradientUnits="userSpaceOnUse" x1="0" y1="352.0" x2="0" y2="382.2"><stop offset="0.00" stop-color="#f0ef75"/><stop offset="0.12" stop-color="#bcee8e"/><stop offset="0.25" stop-color="#77ebb8"/><stop offset="0.38" stop-color="#34e9f0"/><stop offset="0.50" stop-color="#338fd1"/><stop offset="0.62" stop-color="#3254b5"/><stop offset="0.75" stop-color="#31329d"/><stop offset="0.88" stop-color="#302e7e"/><stop offset="1.00" stop-color="#2f2d70"/></linearGradient><linearGradient id="gc0" x1="0" x2="1" y1="0" y2="0"><stop offset="0" stop-color="#ffffff"/><stop offset="1" stop-color="#fbd2d7"/></linearGradient><linearGradient id="gc1" x1="0" x2="1" y1="0" y2="0"><stop offset="0" stop-color="#ffffff"/><stop offset="1" stop-color="#d3e7dd"/></linearGradient><linearGradient id="gc2" x1="0" x2="1" y1="0" y2="0"><stop offset="0" stop-color="#ffffff"/><stop offset="1" stop-color="#fbe0d2"/></linearGradient><linearGradient id="gc3" x1="0" x2="1" y1="0" y2="0"><stop offset="0" stop-color="#ffffff"/><stop offset="1" stop-color="#f5d3ef"/></linearGradient><linearGradient id="gc4" x1="0" x2="1" y1="0" y2="0"><stop offset="0" stop-color="#ffffff"/><stop offset="1" stop-color="#e5dbd8"/></linearGradient><linearGradient id="gc5" x1="0" x2="1" y1="0" y2="0"><stop offset="0" stop-color="#ffffff"/><stop offset="1" stop-color="#fbd3d7"/></linearGradient><linearGradient id="gc6" x1="0" x2="1" y1="0" y2="0"><stop offset="0" stop-color="#ffffff"/><stop offset="1" stop-color="#d8ebe3"/></linearGradient></defs>
<rect x="99" y="26.0" width="89" height="198.5" fill="url(#ga0)"/>
<rect x="188" y="26.0" width="59.5" height="198.5" fill="url(#ga1)"/>
<rect x="247.5" y="26.0" width="59.0" height="198.5" fill="url(#ga2)"/>
<rect x="306.5" y="26.0" width="60.0" height="198.5" fill="url(#ga3)"/>
<rect x="366.5" y="26.0" width="59.0" height="198.5" fill="url(#ga4)"/>
<rect x="425.5" y="26.0" width="58.0" height="198.5" fill="url(#ga5)"/>
<rect x="483.5" y="26.0" width="128.0" height="198.5" fill="url(#ga6)"/>
<path d="M135.6,224.5v-4.5M135.6,26.0v4.5M208.8,224.5v-4.5M208.8,26.0v4.5M282.1,224.5v-4.5M282.1,26.0v4.5M355.3,224.5v-4.5M355.3,26.0v4.5M428.5,224.5v-4.5M428.5,26.0v4.5M501.8,224.5v-4.5M501.8,26.0v4.5M575.0,224.5v-4.5M575.0,26.0v4.5M99.0,212.8h2.8M611.5,212.8h-2.8M99.0,202.8h2.8M611.5,202.8h-2.8M99.0,194.7h2.8M611.5,194.7h-2.8M99.0,187.8h2.8M611.5,187.8h-2.8M99.0,181.9h2.8M611.5,181.9h-2.8M99.0,176.6h2.8M611.5,176.6h-2.8M99.0,171.9h5M611.5,171.9h-5M99.0,141.0h2.8M611.5,141.0h-2.8M99.0,122.9h2.8M611.5,122.9h-2.8M99.0,110.1h2.8M611.5,110.1h-2.8M99.0,100.1h2.8M611.5,100.1h-2.8M99.0,92.0h2.8M611.5,92.0h-2.8M99.0,85.1h2.8M611.5,85.1h-2.8M99.0,79.2h2.8M611.5,79.2h-2.8M99.0,73.9h2.8M611.5,73.9h-2.8M99.0,69.2h5M611.5,69.2h-5M99.0,38.3h2.8M611.5,38.3h-2.8M99.0,38.3h2.8M611.5,38.3h-2.8" stroke="#8a8a8a" stroke-width="0.8" fill="none"/>
<line x1="99.0" y1="38.3" x2="611.5" y2="38.3" stroke="#3d638f" stroke-width="1.35" stroke-dasharray="4 1.6 1.6 1.7" stroke-dashoffset="2"/>
<path d="M127.5,26.0 L129.0,45.0 L130.5,80.0 L131.3,120.0 L131.8,159.6 L132.4,166.2 L133.3,162.5 L134.4,163.9 L135.4,160.6 L136.5,138.9 L137.5,127.5 L138.7,130.4 L139.9,129.4 L141.2,129.9 L142.5,134.2 L143.9,137.9 L146.2,139.3 L149.5,139.3 L152.4,141.2 L155.2,137.9 L157.5,137.9 L159.4,138.9 L162.7,133.2 L166.5,130.4 L169.3,125.7 L173.1,120.9 L176.1,115.8 L182.3,109.7 L189.0,105.2 L194.5,100.5 L200.7,95.0 L206.8,88.8 L212.9,83.9 L219.1,79.0 L225.2,74.1 L231.3,69.2 L237.5,65.5 L243.6,61.8 L248.0,59.1" stroke="#d4453a" stroke-width="1.5" fill="none" stroke-linejoin="round"/>
<path d="M185.3,26.0 L187.4,72.8 L188.7,104.5 L189.2,110.0 L190.2,126.0 L192.1,128.9 L193.5,136.4 L194.9,141.1 L196.3,143.0 L197.7,137.4 L199.2,129.8 L200.8,126.5 L202.5,127.9 L203.9,138.3 L205.3,145.8 L207.2,148.7 L209.5,150.6 L212.4,153.9 L215.2,151.0 L218.0,152.5 L220.4,148.7 L222.7,145.4 L225.6,142.5 L228.4,137.4 L232.2,132.6 L236.9,127.0 L241.6,123.2 L245.0,120.4 L248.7,117.3 L256.0,110.7 L264.0,103.3 L272.0,96.7 L280.0,90.7 L288.0,85.3 L294.7,80.0 L300.0,76.7 L306.7,73.3 L313.3,70.7 L319.7,68.7" stroke="#4b8f44" stroke-width="1.5" fill="none" stroke-linejoin="round"/>
<path d="M245.1,26.0 L246.8,61.0 L248.5,100.0 L248.9,110.0 L249.4,141.2 L250.2,155.7 L251.2,161.4 L252.5,156.7 L253.8,154.1 L255.4,157.8 L256.6,159.8 L258.0,153.6 L259.5,147.4 L261.6,145.3 L263.7,147.4 L265.8,153.6 L267.8,156.2 L269.9,159.8 L271.8,162.4 L273.6,160.4 L275.6,159.8 L277.7,161.4 L279.8,155.7 L281.9,153.6 L283.9,151.5 L286.5,145.8 L289.7,142.2 L293.8,138.6 L298.0,134.9 L302.1,131.8 L307.4,127.4 L314.8,120.7 L322.2,114.1 L329.6,108.1 L337.0,103.0 L344.4,97.8 L351.9,92.6 L359.3,87.4 L365.2,83.7 L372.6,81.5 L380.0,80.0 L388.9,79.3 L396.5,79.6" stroke="#e8773a" stroke-width="1.5" fill="none" stroke-linejoin="round"/>
<path d="M304.9,26.0 L305.7,61.0 L307.2,110.0 L307.9,120.0 L309.0,153.0 L309.9,175.5 L311.2,184.7 L312.5,176.8 L313.9,169.5 L315.2,168.9 L316.5,170.9 L318.5,162.3 L320.5,157.6 L322.5,156.3 L325.1,158.3 L327.7,161.0 L329.7,166.2 L331.0,168.2 L333.0,164.9 L335.0,166.2 L337.0,162.3 L339.6,157.6 L342.3,155.0 L344.9,150.4 L348.9,146.4 L352.8,143.1 L356.8,140.5 L362.1,137.2 L366.0,134.5 L370.0,130.5 L377.4,121.9 L384.8,115.2 L392.2,110.7 L399.6,105.6 L407.0,101.1 L414.4,96.7 L421.9,93.7 L426.0,92.8 L430.2,91.2 L435.4,90.0 L441.1,89.3 L448.5,89.3 L456.7,90.4" stroke="#a74fc0" stroke-width="1.5" fill="none" stroke-linejoin="round"/>
<path d="M364.4,26.0 L365.2,60.0 L367.3,120.0 L367.7,150.0 L368.7,173.6 L369.3,185.0 L369.8,195.0 L370.5,200.8 L371.5,195.0 L372.5,188.0 L373.9,180.2 L375.8,178.3 L377.2,171.7 L378.6,166.0 L380.5,163.2 L383.3,161.3 L385.7,159.4 L387.5,163.2 L389.4,168.9 L391.3,164.2 L393.7,165.1 L396.3,161.0 L398.3,156.3 L401.0,154.3 L403.6,149.7 L407.6,147.7 L411.5,145.8 L415.5,144.4 L419.4,141.8 L423.4,139.2 L426.0,135.8 L430.2,130.6 L435.4,125.5 L440.6,121.3 L445.7,117.7 L450.9,115.1 L456.1,112.0 L461.3,108.3 L466.5,105.2 L471.7,102.1 L476.9,100.4 L482.1,99.3 L487.2,99.0 L496.0,97.6 L499.6,97.0 L506.7,97.6 L515.6,98.8 L525.3,101.1" stroke="#8e3b2a" stroke-width="1.5" fill="none" stroke-linejoin="round"/>
<path d="M424.0,26.0 L424.5,70.0 L426.0,140.0 L427.1,168.3 L428.2,193.8 L429.2,206.6 L430.2,212.2 L431.3,205.2 L432.7,193.8 L434.2,188.2 L435.6,182.5 L437.0,172.6 L438.4,169.0 L440.5,166.9 L442.0,164.1 L443.4,157.0 L445.2,154.9 L446.9,161.2 L449.0,156.3 L450.9,153.5 L452.3,156.3 L454.0,150.6 L455.7,146.4 L457.1,149.9 L459.0,147.8 L461.1,146.4 L463.9,147.8 L466.7,147.1 L470.0,146.4 L473.8,146.4 L478.5,143.6 L482.7,138.4 L488.9,131.3 L497.8,123.3 L506.7,117.1 L515.6,110.9 L524.4,106.4 L533.3,103.8 L542.2,103.4 L551.1,103.8 L560.0,104.9 L566.5,104.7 L572.2,105.5 L577.9,106.7 L583.6,107.5 L588.5,108.6 L593.4,109.4" stroke="#dc4a3c" stroke-width="1.5" fill="none" stroke-linejoin="round"/>
<path d="M482.8,26.0 L483.2,70.0 L483.9,85.0 L485.0,130.0 L486.3,165.8 L487.5,198.1 L488.6,214.2 L489.5,220.5 L490.4,212.4 L491.6,201.7 L493.4,194.5 L495.2,182.0 L497.0,173.0 L498.8,170.3 L500.6,162.3 L502.4,155.1 L504.2,150.6 L506.0,144.3 L507.8,142.5 L509.6,141.6 L512.3,137.5 L514.9,140.8 L517.6,142.5 L520.3,144.3 L523.0,147.0 L526.6,146.1 L530.2,147.0 L533.8,143.4 L537.3,141.6 L540.9,137.2 L545.0,133.6 L547.6,130.4 L552.0,127.0 L556.4,124.2 L560.0,121.8 L564.9,119.3 L569.8,115.7 L574.7,112.0 L579.6,108.7 L584.5,106.7 L591.0,105.5 L596.7,105.9 L602.4,106.3 L607.3,107.0 L611.0,107.3" stroke="#46913f" stroke-width="1.5" fill="none" stroke-linejoin="round"/>
<rect x="99.0" y="26.0" width="512.5" height="198.5" fill="none" stroke="#3a3a3a" stroke-width="1.3"/>
<line x1="152.6" y1="67.8" x2="163.5" y2="48.5" stroke="#2f6eb0" stroke-width="2"/>
<polygon points="167.4,42.9 159.6,48.2 165.8,51.8" fill="#2f6eb0"/>
<text x="137.5" y="85.7" font-size="16" fill="#2f6eb0" stroke="#2f6eb0" stroke-width="0.25" font-family='"Liberation Sans", sans-serif'>I = 2A</text>
<text x="138.5" y="205.8" font-size="17.4" font-weight="bold" fill="#cf2f2c" stroke="#cf2f2c" stroke-width="0.35" font-family='"Liberation Sans", sans-serif' textLength="21" lengthAdjust="spacingAndGlyphs">TE</text><text x="158.9" y="208.4" font-size="11.2" font-weight="bold" fill="#cf2f2c" stroke="#cf2f2c" stroke-width="0.2" font-family='"Liberation Sans", sans-serif' textLength="14.5" lengthAdjust="spacingAndGlyphs">9,2</text>
<text x="195.4" y="205.8" font-size="17.4" font-weight="bold" fill="#2f7a30" stroke="#2f7a30" stroke-width="0.35" font-family='"Liberation Sans", sans-serif' textLength="21" lengthAdjust="spacingAndGlyphs">TE</text><text x="215.8" y="208.4" font-size="11.2" font-weight="bold" fill="#2f7a30" stroke="#2f7a30" stroke-width="0.2" font-family='"Liberation Sans", sans-serif' textLength="20.7" lengthAdjust="spacingAndGlyphs">10,2</text>
<text x="257.3" y="205.8" font-size="17.4" font-weight="bold" fill="#e2682a" stroke="#e2682a" stroke-width="0.35" font-family='"Liberation Sans", sans-serif' textLength="21" lengthAdjust="spacingAndGlyphs">TE</text><text x="277.7" y="208.4" font-size="11.2" font-weight="bold" fill="#e2682a" stroke="#e2682a" stroke-width="0.2" font-family='"Liberation Sans", sans-serif' textLength="20.7" lengthAdjust="spacingAndGlyphs">11,2</text>
<text x="318.1" y="205.8" font-size="17.4" font-weight="bold" fill="#9c3db4" stroke="#9c3db4" stroke-width="0.35" font-family='"Liberation Sans", sans-serif' textLength="21" lengthAdjust="spacingAndGlyphs">TE</text><text x="338.5" y="208.4" font-size="11.2" font-weight="bold" fill="#9c3db4" stroke="#9c3db4" stroke-width="0.2" font-family='"Liberation Sans", sans-serif' textLength="20.7" lengthAdjust="spacingAndGlyphs">12,2</text>
<text x="376" y="205.8" font-size="17.4" font-weight="bold" fill="#7b2a1c" stroke="#7b2a1c" stroke-width="0.35" font-family='"Liberation Sans", sans-serif' textLength="21" lengthAdjust="spacingAndGlyphs">TE</text><text x="396.4" y="208.4" font-size="11.2" font-weight="bold" fill="#7b2a1c" stroke="#7b2a1c" stroke-width="0.2" font-family='"Liberation Sans", sans-serif' textLength="20.7" lengthAdjust="spacingAndGlyphs">13,2</text>
<text x="438.2" y="205.8" font-size="17.4" font-weight="bold" fill="#d0352f" stroke="#d0352f" stroke-width="0.35" font-family='"Liberation Sans", sans-serif' textLength="21" lengthAdjust="spacingAndGlyphs">TE</text><text x="458.59999999999997" y="208.4" font-size="11.2" font-weight="bold" fill="#d0352f" stroke="#d0352f" stroke-width="0.2" font-family='"Liberation Sans", sans-serif' textLength="20.7" lengthAdjust="spacingAndGlyphs">14,2</text>
<text x="503.8" y="205.8" font-size="17.4" font-weight="bold" fill="#2f8335" stroke="#2f8335" stroke-width="0.35" font-family='"Liberation Sans", sans-serif' textLength="21" lengthAdjust="spacingAndGlyphs">TE</text><text x="524.1999999999999" y="208.4" font-size="11.2" font-weight="bold" fill="#2f8335" stroke="#2f8335" stroke-width="0.2" font-family='"Liberation Sans", sans-serif' textLength="20.7" lengthAdjust="spacingAndGlyphs">15,2</text>
<text x="135.6" y="241.6" font-size="13.3" text-anchor="middle" fill="#111" font-family='"Liberation Sans", sans-serif' >11</text>
<text x="208.8" y="241.6" font-size="13.3" text-anchor="middle" fill="#111" font-family='"Liberation Sans", sans-serif' >12</text>
<text x="282.1" y="241.6" font-size="13.3" text-anchor="middle" fill="#111" font-family='"Liberation Sans", sans-serif' >13</text>
<text x="355.3" y="241.6" font-size="13.3" text-anchor="middle" fill="#111" font-family='"Liberation Sans", sans-serif' >14</text>
<text x="428.5" y="241.6" font-size="13.3" text-anchor="middle" fill="#111" font-family='"Liberation Sans", sans-serif' >15</text>
<text x="501.8" y="241.6" font-size="13.3" text-anchor="middle" fill="#111" font-family='"Liberation Sans", sans-serif' >16</text>
<text x="575.0" y="241.6" font-size="13.3" text-anchor="middle" fill="#111" font-family='"Liberation Sans", sans-serif' >17</text>
<text x="88.9" y="76.3" font-size="13.6" text-anchor="end" fill="#111" font-family='"Liberation Sans", sans-serif' >10</text>
<text x="88.8" y="69.6" font-size="10.2" text-anchor="start" fill="#111" font-family='"Liberation Sans", sans-serif' >0</text>
<text x="84.9" y="178.9" font-size="13.6" text-anchor="end" fill="#111" font-family='"Liberation Sans", sans-serif' >10</text>
<text x="85.2" y="172.2" font-size="10.2" text-anchor="start" fill="#111" font-family='"Liberation Sans", sans-serif' >-1</text>
<text x="354.6" y="271.3" font-size="17" fill="#111" stroke="#111" stroke-width="0.2" font-family='"Liberation Sans", sans-serif' textLength="41" lengthAdjust="spacingAndGlyphs">B<tspan font-size="11" dy="3.2">0</tspan><tspan dy="-3.2"> (T)</tspan></text>
<text transform="translate(57.9,146.6) rotate(-90)" font-size="16.8" fill="#111" stroke="#111" stroke-width="0.2" font-family='"Liberation Sans", sans-serif'>I<tspan font-size="10.5" dy="3">st</tspan><tspan dy="-3"> (A)</tspan></text>
<text x="4.6" y="12.5" font-size="22.5" font-weight="bold" fill="#000" font-family='"Liberation Sans", sans-serif'>a</text>
<text x="4.6" y="320.7" font-size="23.5" font-weight="bold" fill="#000" font-family='"Liberation Sans", sans-serif'>b</text>
<text x="385.4" y="321" font-size="22.5" font-weight="bold" fill="#000" font-family='"Liberation Sans", sans-serif'>c</text>
<path d="M53.2,379.7L53.2,355.0M109.3,372.0L109.3,347.3M165.4,364.3L165.4,339.6M221.4,356.6L221.4,331.9M42.0,368.8L266.3,338.1M325.6,453.3L325.6,428.6M315.7,436.3L315.7,411.6M305.9,419.2L305.9,394.5M296.1,402.2L296.1,377.5M286.3,385.1L286.3,360.4M276.4,368.1L276.4,343.4M266.3,338.1L329.3,447.4" stroke="#c4c4c4" stroke-width="0.8" stroke-dasharray="1 1.6" fill="none"/>
<path d="M42.0,381.2L42.0,356.5M42.0,356.5L266.3,325.8M266.3,350.5L266.3,325.8M266.3,325.8L329.3,435.1M329.3,459.8L329.3,435.1M42.0,356.5L105.0,465.8M105.0,465.8L329.3,435.1" stroke="#a0a0a0" stroke-width="0.9" fill="none"/>
<polygon points="105.0,490.5 329.3,459.8 266.3,350.5 42.0,381.2" fill="#2f2d70"/>
<rect x="137.30" y="452.7" width="1.60" height="20.2" fill="url(#s0)"/>
<rect x="138.30" y="452.1" width="0.80" height="20.0" fill="url(#s1)"/>
<rect x="157.10" y="434.1" width="1.60" height="19.3" fill="url(#s2)"/>
<rect x="158.10" y="429.0" width="0.80" height="20.2" fill="url(#s3)"/>
<rect x="167.50" y="428.0" width="1.60" height="20.1" fill="url(#s4)"/>
<rect x="168.50" y="424.3" width="1.60" height="19.9" fill="url(#s5)"/>
<rect x="169.50" y="419.8" width="1.60" height="20.7" fill="url(#s6)"/>
<rect x="170.50" y="416.6" width="1.60" height="20.1" fill="url(#s7)"/>
<rect x="171.50" y="414.5" width="0.80" height="19.9" fill="url(#s8)"/>
<rect x="185.00" y="410.7" width="1.60" height="19.6" fill="url(#s9)"/>
<rect x="186.00" y="406.0" width="1.60" height="20.8" fill="url(#s10)"/>
<rect x="187.00" y="402.9" width="1.60" height="20.5" fill="url(#s11)"/>
<rect x="188.00" y="399.0" width="1.60" height="20.8" fill="url(#s12)"/>
<rect x="189.00" y="397.5" width="1.20" height="19.5" fill="url(#s13)"/>
<rect x="202.10" y="390.7" width="1.60" height="19.8" fill="url(#s14)"/>
<rect x="203.10" y="386.4" width="1.60" height="20.9" fill="url(#s15)"/>
<rect x="204.10" y="384.9" width="1.60" height="19.2" fill="url(#s16)"/>
<rect x="205.10" y="381.8" width="1.60" height="19.3" fill="url(#s17)"/>
<rect x="206.10" y="378.1" width="1.60" height="19.8" fill="url(#s18)"/>
<rect x="207.10" y="376.3" width="0.70" height="19.9" fill="url(#s19)"/>
<rect x="220.50" y="371.2" width="1.60" height="20.7" fill="url(#s20)"/>
<rect x="221.50" y="366.7" width="1.60" height="21.0" fill="url(#s21)"/>
<rect x="222.50" y="363.4" width="1.60" height="20.0" fill="url(#s22)"/>
<rect x="223.50" y="358.8" width="1.40" height="20.9" fill="url(#s23)"/>
<rect x="118.20" y="456.3" width="1.60" height="18.2" fill="url(#s24)"/>
<rect x="119.20" y="457.2" width="1.60" height="18.1" fill="url(#s25)"/>
<rect x="120.20" y="459.4" width="1.60" height="18.4" fill="url(#s26)"/>
<rect x="121.20" y="458.4" width="1.60" height="17.7" fill="url(#s27)"/>
<rect x="122.20" y="457.1" width="1.60" height="17.7" fill="url(#s28)"/>
<rect x="123.20" y="456.8" width="1.60" height="17.0" fill="url(#s29)"/>
<rect x="124.20" y="455.6" width="1.60" height="17.6" fill="url(#s30)"/>
<rect x="125.20" y="455.3" width="1.60" height="17.3" fill="url(#s31)"/>
<rect x="126.20" y="454.5" width="1.60" height="17.6" fill="url(#s32)"/>
<rect x="127.20" y="454.4" width="1.60" height="17.3" fill="url(#s33)"/>
<rect x="128.20" y="453.6" width="1.60" height="17.7" fill="url(#s34)"/>
<rect x="129.20" y="452.8" width="1.60" height="18.0" fill="url(#s35)"/>
<rect x="130.20" y="453.7" width="1.60" height="16.7" fill="url(#s36)"/>
<rect x="131.20" y="453.3" width="1.60" height="16.7" fill="url(#s37)"/>
<rect x="132.20" y="452.6" width="1.60" height="17.0" fill="url(#s38)"/>
<rect x="133.20" y="451.9" width="1.60" height="17.2" fill="url(#s39)"/>
<rect x="134.20" y="450.7" width="1.60" height="17.9" fill="url(#s40)"/>
<rect x="135.20" y="450.0" width="1.60" height="18.1" fill="url(#s41)"/>
<rect x="136.20" y="449.6" width="1.60" height="18.0" fill="url(#s42)"/>
<rect x="137.20" y="448.8" width="1.20" height="18.4" fill="url(#s43)"/>
<rect x="138.20" y="442.3" width="1.60" height="18.4" fill="url(#s44)"/>
<rect x="139.20" y="440.6" width="1.60" height="19.1" fill="url(#s45)"/>
<rect x="140.20" y="440.3" width="1.60" height="18.4" fill="url(#s46)"/>
<rect x="141.20" y="438.6" width="1.60" height="19.2" fill="url(#s47)"/>
<rect x="142.20" y="438.8" width="1.60" height="18.3" fill="url(#s48)"/>
<rect x="143.20" y="437.8" width="1.60" height="18.5" fill="url(#s49)"/>
<rect x="144.20" y="435.4" width="1.60" height="20.1" fill="url(#s50)"/>
<rect x="145.20" y="435.0" width="1.60" height="19.8" fill="url(#s51)"/>
<rect x="146.20" y="435.4" width="1.60" height="18.6" fill="url(#s52)"/>
<rect x="147.20" y="434.0" width="1.60" height="19.5" fill="url(#s53)"/>
<rect x="148.20" y="434.4" width="1.60" height="18.6" fill="url(#s54)"/>
<rect x="149.20" y="432.9" width="1.60" height="19.7" fill="url(#s55)"/>
<rect x="150.20" y="431.8" width="1.60" height="20.4" fill="url(#s56)"/>
<rect x="151.20" y="432.3" width="1.60" height="19.5" fill="url(#s57)"/>
<rect x="152.20" y="432.1" width="1.60" height="19.3" fill="url(#s58)"/>
<rect x="153.20" y="430.8" width="1.60" height="20.2" fill="url(#s59)"/>
<rect x="154.20" y="430.3" width="1.60" height="20.6" fill="url(#s60)"/>
<rect x="155.20" y="430.8" width="1.60" height="20.2" fill="url(#s61)"/>
<rect x="156.20" y="432.9" width="1.60" height="19.2" fill="url(#s62)"/>
<rect x="157.20" y="433.2" width="1.00" height="19.6" fill="url(#s63)"/>
<rect x="158.00" y="417.7" width="1.60" height="19.5" fill="url(#s64)"/>
<rect x="159.00" y="417.6" width="1.60" height="19.2" fill="url(#s65)"/>
<rect x="160.00" y="417.1" width="1.60" height="19.3" fill="url(#s66)"/>
<rect x="161.00" y="417.0" width="1.60" height="19.3" fill="url(#s67)"/>
<rect x="162.00" y="418.4" width="1.60" height="17.8" fill="url(#s68)"/>
<rect x="163.00" y="417.5" width="1.60" height="18.8" fill="url(#s69)"/>
<rect x="164.00" y="418.3" width="1.60" height="18.0" fill="url(#s70)"/>
<rect x="165.00" y="418.0" width="1.60" height="18.1" fill="url(#s71)"/>
<rect x="166.00" y="418.9" width="1.60" height="18.4" fill="url(#s72)"/>
<rect x="167.00" y="423.8" width="1.60" height="17.3" fill="url(#s73)"/>
<rect x="171.40" y="403.2" width="1.60" height="25.8" fill="url(#s74)"/>
<rect x="172.40" y="402.3" width="1.60" height="24.7" fill="url(#s75)"/>
<rect x="173.40" y="401.0" width="1.60" height="25.4" fill="url(#s76)"/>
<rect x="174.40" y="401.3" width="1.60" height="24.7" fill="url(#s77)"/>
<rect x="175.40" y="401.3" width="1.60" height="24.9" fill="url(#s78)"/>
<rect x="176.40" y="401.9" width="1.60" height="24.6" fill="url(#s79)"/>
<rect x="177.40" y="402.6" width="1.60" height="23.2" fill="url(#s80)"/>
<rect x="178.40" y="401.5" width="1.60" height="23.3" fill="url(#s81)"/>
<rect x="179.40" y="399.9" width="1.60" height="24.0" fill="url(#s82)"/>
<rect x="180.40" y="400.2" width="1.60" height="22.8" fill="url(#s83)"/>
<rect x="181.40" y="399.1" width="1.60" height="23.8" fill="url(#s84)"/>
<rect x="182.40" y="399.7" width="1.60" height="23.3" fill="url(#s85)"/>
<rect x="183.40" y="401.7" width="1.60" height="22.3" fill="url(#s86)"/>
<rect x="184.40" y="404.6" width="1.60" height="22.5" fill="url(#s87)"/>
<rect x="185.40" y="406.9" width="0.70" height="23.3" fill="url(#s88)"/>
<rect x="189.30" y="386.8" width="1.60" height="28.0" fill="url(#s89)"/>
<rect x="190.30" y="383.3" width="1.60" height="29.1" fill="url(#s90)"/>
<rect x="191.30" y="382.2" width="1.60" height="28.7" fill="url(#s91)"/>
<rect x="192.30" y="382.1" width="1.60" height="27.5" fill="url(#s92)"/>
<rect x="193.30" y="381.5" width="1.60" height="28.0" fill="url(#s93)"/>
<rect x="194.30" y="381.9" width="1.60" height="27.8" fill="url(#s94)"/>
<rect x="195.30" y="381.0" width="1.60" height="27.9" fill="url(#s95)"/>
<rect x="196.30" y="380.3" width="1.60" height="27.6" fill="url(#s96)"/>
<rect x="197.30" y="380.6" width="1.60" height="26.4" fill="url(#s97)"/>
<rect x="198.30" y="379.5" width="1.60" height="26.8" fill="url(#s98)"/>
<rect x="199.30" y="379.8" width="1.60" height="25.8" fill="url(#s99)"/>
<rect x="200.30" y="379.7" width="1.60" height="26.0" fill="url(#s100)"/>
<rect x="201.30" y="381.8" width="1.60" height="25.6" fill="url(#s101)"/>
<rect x="202.30" y="387.6" width="0.90" height="24.4" fill="url(#s102)"/>
<rect x="206.90" y="365.9" width="1.60" height="32.6" fill="url(#s103)"/>
<rect x="207.90" y="363.8" width="1.60" height="32.1" fill="url(#s104)"/>
<rect x="208.90" y="362.9" width="1.60" height="31.2" fill="url(#s105)"/>
<rect x="209.90" y="361.1" width="1.60" height="32.1" fill="url(#s106)"/>
<rect x="210.90" y="361.2" width="1.60" height="31.8" fill="url(#s107)"/>
<rect x="211.90" y="363.5" width="1.60" height="30.1" fill="url(#s108)"/>
<rect x="212.90" y="363.9" width="1.60" height="29.9" fill="url(#s109)"/>
<rect x="213.90" y="362.6" width="1.60" height="30.6" fill="url(#s110)"/>
<rect x="214.90" y="361.9" width="1.60" height="30.3" fill="url(#s111)"/>
<rect x="215.90" y="361.9" width="1.60" height="29.0" fill="url(#s112)"/>
<rect x="216.90" y="361.8" width="1.60" height="28.3" fill="url(#s113)"/>
<rect x="217.90" y="360.7" width="1.60" height="29.2" fill="url(#s114)"/>
<rect x="218.90" y="363.3" width="1.60" height="27.5" fill="url(#s115)"/>
<rect x="219.90" y="366.3" width="1.60" height="27.3" fill="url(#s116)"/>
<rect x="220.90" y="369.7" width="0.70" height="27.4" fill="url(#s117)"/>
<rect x="224.00" y="347.8" width="1.60" height="37.7" fill="url(#s118)"/>
<rect x="225.00" y="344.2" width="1.60" height="37.8" fill="url(#s119)"/>
<rect x="226.00" y="343.1" width="1.60" height="37.4" fill="url(#s120)"/>
<rect x="227.00" y="344.7" width="1.60" height="35.2" fill="url(#s121)"/>
<rect x="228.00" y="344.4" width="1.60" height="36.0" fill="url(#s122)"/>
<rect x="229.00" y="345.5" width="1.60" height="34.6" fill="url(#s123)"/>
<rect x="230.00" y="344.2" width="1.60" height="34.9" fill="url(#s124)"/>
<rect x="231.00" y="344.5" width="1.60" height="33.3" fill="url(#s125)"/>
<rect x="232.00" y="343.1" width="1.60" height="33.2" fill="url(#s126)"/>
<rect x="233.00" y="341.6" width="1.60" height="33.3" fill="url(#s127)"/>
<rect x="234.00" y="340.5" width="1.60" height="32.9" fill="url(#s128)"/>
<rect x="235.00" y="341.2" width="1.60" height="31.4" fill="url(#s129)"/>
<rect x="236.00" y="340.1" width="1.60" height="32.1" fill="url(#s130)"/>
<rect x="237.00" y="344.5" width="1.60" height="31.3" fill="url(#s131)"/>
<rect x="238.00" y="352.0" width="0.90" height="30.2" fill="url(#s132)"/>
<path d="M105.0,490.5L105.0,465.8M105.0,465.8L329.3,435.1M42.0,356.5L105.0,465.8M329.3,459.8L329.3,435.1" stroke="#1f1d4e" stroke-width="1" fill="none" clip-path="url(#navyclip)"/>
<path d="M101.3,484.0l-5.8,0.8M91.4,467.0l-5.8,0.8M81.6,449.9l-5.8,0.8M71.8,432.9l-5.8,0.8M62.0,415.8l-5.8,0.8M52.1,398.8l-5.8,0.8M116.2,489.8l2.9,3.8M172.3,482.1l2.9,3.8M228.4,474.4l2.9,3.8M284.4,466.7l2.9,3.8M42.0,381.2l-2.8,-4.8M42.0,368.8l-2.8,-4.8M42.0,356.5l-2.8,-4.8" stroke="#999" stroke-width="0.8" fill="none"/>
<text x="86.6" y="496.90000000000003" font-size="12.3" text-anchor="middle" fill="#111" font-family='"Liberation Sans", sans-serif' >11</text>
<text x="76.8" y="479.90000000000003" font-size="12.3" text-anchor="middle" fill="#111" font-family='"Liberation Sans", sans-serif' >12</text>
<text x="66.8" y="462.90000000000003" font-size="12.3" text-anchor="middle" fill="#111" font-family='"Liberation Sans", sans-serif' >13</text>
<text x="57" y="445.90000000000003" font-size="12.3" text-anchor="middle" fill="#111" font-family='"Liberation Sans", sans-serif' >14</text>
<text x="47.3" y="429.0" font-size="12.3" text-anchor="middle" fill="#111" font-family='"Liberation Sans", sans-serif' >15</text>
<text x="37.4" y="412.0" font-size="12.3" text-anchor="middle" fill="#111" font-family='"Liberation Sans", sans-serif' >16</text>
<text x="129.8" y="509.79999999999995" font-size="14" text-anchor="middle" fill="#111" font-family='"Liberation Sans", sans-serif' >300</text>
<text x="186" y="502.0" font-size="14" text-anchor="middle" fill="#111" font-family='"Liberation Sans", sans-serif' >350</text>
<text x="242.2" y="494.5" font-size="14" text-anchor="middle" fill="#111" font-family='"Liberation Sans", sans-serif' >400</text>
<text x="298.4" y="487.0" font-size="14" text-anchor="middle" fill="#111" font-family='"Liberation Sans", sans-serif' >450</text>
<text x="36.4" y="355.6" font-size="12" text-anchor="end" fill="#111" font-family='"Liberation Sans", sans-serif' >1</text>
<text x="38.2" y="368.1" font-size="12.3" text-anchor="end" fill="#111" font-family='"Liberation Sans", sans-serif' >0.5</text>
<text x="38.6" y="380" font-size="12" text-anchor="end" fill="#111" font-family='"Liberation Sans", sans-serif' >0</text>
<text x="-2.2" y="467.8" font-size="16.6" fill="#111" stroke="#111" stroke-width="0.2" font-family='"Liberation Sans", sans-serif' textLength="40.5" lengthAdjust="spacingAndGlyphs">B<tspan font-size="10.5" dy="3">0</tspan><tspan dy="-3"> (T)</tspan></text>
<text transform="translate(171.3,528.9) rotate(-5.6)" font-size="16.4" fill="#111" stroke="#111" stroke-width="0.15" font-family='"Liberation Sans", sans-serif'>Frequency (GHz)</text>
<text x="85.5" y="428.9" font-size="16.4" font-weight="bold" fill="#e8402c" stroke="#e8402c" stroke-width="0.45" font-family='"Liberation Sans", sans-serif' textLength="18.2" lengthAdjust="spacingAndGlyphs">TE</text>
<text x="104.7" y="431.9" font-size="10.6" font-weight="bold" fill="#e8402c" stroke="#e8402c" stroke-width="0.2" font-family='"Liberation Sans", sans-serif' textLength="13.6" lengthAdjust="spacingAndGlyphs">9,2</text>
<line x1="108" y1="437.2" x2="113.5" y2="445.9" stroke="#e8402c" stroke-width="1.5"/>
<polygon points="116.5,450.5 111.3,447.3 115.7,444.5" fill="#e8402c"/>
<text x="102.2" y="409.3" font-size="16.4" font-weight="bold" fill="#45a03c" stroke="#45a03c" stroke-width="0.45" font-family='"Liberation Sans", sans-serif' textLength="18.2" lengthAdjust="spacingAndGlyphs">TE</text>
<text x="121.4" y="412.3" font-size="10.6" font-weight="bold" fill="#45a03c" stroke="#45a03c" stroke-width="0.2" font-family='"Liberation Sans", sans-serif' textLength="18.2" lengthAdjust="spacingAndGlyphs">10,2</text>
<line x1="131.4" y1="419.1" x2="137.4" y2="432.2" stroke="#45a03c" stroke-width="1.5"/>
<polygon points="139.7,437.2 135.0,433.3 139.8,431.1" fill="#45a03c"/>
<text x="124.8" y="391.1" font-size="16.4" font-weight="bold" fill="#f07a30" stroke="#f07a30" stroke-width="0.45" font-family='"Liberation Sans", sans-serif' textLength="18.2" lengthAdjust="spacingAndGlyphs">TE</text>
<text x="144.0" y="394.1" font-size="10.6" font-weight="bold" fill="#f07a30" stroke="#f07a30" stroke-width="0.2" font-family='"Liberation Sans", sans-serif' textLength="18.9" lengthAdjust="spacingAndGlyphs">11,2</text>
<line x1="149.8" y1="397.2" x2="156.8" y2="411.2" stroke="#f07a30" stroke-width="1.5"/>
<polygon points="159.3,416.1 154.5,412.4 159.2,410.0" fill="#f07a30"/>
<text x="193.9" y="444" font-size="16.4" font-weight="bold" fill="#b455d2" stroke="#b455d2" stroke-width="0.45" font-family='"Liberation Sans", sans-serif' textLength="18.2" lengthAdjust="spacingAndGlyphs">TE</text>
<text x="213.1" y="447.0" font-size="10.6" font-weight="bold" fill="#b455d2" stroke="#b455d2" stroke-width="0.2" font-family='"Liberation Sans", sans-serif' textLength="18.6" lengthAdjust="spacingAndGlyphs">12,2</text>
<line x1="191.9" y1="433" x2="185.6" y2="420.9" stroke="#b455d2" stroke-width="1.5"/>
<polygon points="183.1,416.0 187.9,419.7 183.3,422.1" fill="#b455d2"/>
<text x="211.8" y="427.9" font-size="16.4" font-weight="bold" fill="#a8582c" stroke="#a8582c" stroke-width="0.45" font-family='"Liberation Sans", sans-serif' textLength="18.2" lengthAdjust="spacingAndGlyphs">TE</text>
<text x="231.0" y="430.9" font-size="10.6" font-weight="bold" fill="#a8582c" stroke="#a8582c" stroke-width="0.2" font-family='"Liberation Sans", sans-serif' textLength="18.7" lengthAdjust="spacingAndGlyphs">13,2</text>
<line x1="209.7" y1="416" x2="202.9" y2="403.1" stroke="#a8582c" stroke-width="1.5"/>
<polygon points="200.4,398.2 205.3,401.9 200.6,404.3" fill="#a8582c"/>
<text x="228.7" y="410.1" font-size="16.4" font-weight="bold" fill="#f03c2c" stroke="#f03c2c" stroke-width="0.45" font-family='"Liberation Sans", sans-serif' textLength="18.2" lengthAdjust="spacingAndGlyphs">TE</text>
<text x="247.9" y="413.1" font-size="10.6" font-weight="bold" fill="#f03c2c" stroke="#f03c2c" stroke-width="0.2" font-family='"Liberation Sans", sans-serif' textLength="17.8" lengthAdjust="spacingAndGlyphs">14,2</text>
<line x1="225.8" y1="396.5" x2="219.7" y2="382.8" stroke="#f03c2c" stroke-width="1.5"/>
<polygon points="217.4,377.8 222.0,381.8 217.3,383.9" fill="#f03c2c"/>
<text x="246.6" y="394" font-size="16.4" font-weight="bold" fill="#3c9c3c" stroke="#3c9c3c" stroke-width="0.45" font-family='"Liberation Sans", sans-serif' textLength="18.2" lengthAdjust="spacingAndGlyphs">TE</text>
<text x="265.8" y="397.0" font-size="10.6" font-weight="bold" fill="#3c9c3c" stroke="#3c9c3c" stroke-width="0.2" font-family='"Liberation Sans", sans-serif' textLength="17.8" lengthAdjust="spacingAndGlyphs">15,2</text>
<line x1="244.5" y1="382.9" x2="237.6" y2="369.1" stroke="#3c9c3c" stroke-width="1.5"/>
<polygon points="235.2,364.2 240.0,368.0 235.3,370.3" fill="#3c9c3c"/>
<rect x="424.6" y="329.2" width="49.4" height="152.1" fill="url(#gc0)"/>
<rect x="474" y="329.2" width="41.3" height="152.1" fill="url(#gc1)"/>
<rect x="515.3" y="329.2" width="19.7" height="152.1" fill="url(#gc2)"/>
<rect x="535" y="329.2" width="34.8" height="152.1" fill="url(#gc3)"/>
<rect x="569.8" y="329.2" width="32.7" height="152.1" fill="url(#gc4)"/>
<rect x="602.5" y="329.2" width="34.9" height="152.1" fill="url(#gc5)"/>
<rect x="637.4" y="329.2" width="36.9" height="152.1" fill="url(#gc6)"/>
<path d="M430.3,481.3v-3M430.3,329.2v3M470.1,481.3v-3M470.1,329.2v3M509.9,481.3v-3M509.9,329.2v3M549.7,481.3v-3M549.7,329.2v3M589.5,481.3v-3M589.5,329.2v3M629.3,481.3v-3M629.3,329.2v3M669.1,481.3v-3M669.1,329.2v3M424.6,481.3h3M674.3,481.3h-3M424.6,448.2h3M674.3,448.2h-3M424.6,415.1h3M674.3,415.1h-3M424.6,382.0h3M674.3,382.0h-3M424.6,348.9h3M674.3,348.9h-3" stroke="#888" stroke-width="0.8" fill="none"/>
<text transform="translate(457.3,330.9) rotate(90)" font-size="19.2" font-weight="bold" fill="#d42a26" stroke="#d42a26" stroke-width="0.35" font-family='"Liberation Sans", sans-serif' textLength="21" lengthAdjust="spacingAndGlyphs">TE</text>
<text transform="translate(453.0,352) rotate(90)" font-size="12" font-weight="bold" fill="#d42a26" stroke="#d42a26" stroke-width="0.2" font-family='"Liberation Sans", sans-serif' textLength="14.4" lengthAdjust="spacingAndGlyphs">9,2</text>
<text transform="translate(496.6,330.9) rotate(90)" font-size="19.2" font-weight="bold" fill="#2e7d32" stroke="#2e7d32" stroke-width="0.35" font-family='"Liberation Sans", sans-serif' textLength="21" lengthAdjust="spacingAndGlyphs">TE</text>
<text transform="translate(492.3,352) rotate(90)" font-size="12" font-weight="bold" fill="#2e7d32" stroke="#2e7d32" stroke-width="0.2" font-family='"Liberation Sans", sans-serif' textLength="20.2" lengthAdjust="spacingAndGlyphs">10,2</text>
<text transform="translate(520.7,330.9) rotate(90)" font-size="19.2" font-weight="bold" fill="#e8692a" stroke="#e8692a" stroke-width="0.35" font-family='"Liberation Sans", sans-serif' textLength="21" lengthAdjust="spacingAndGlyphs">TE</text>
<text transform="translate(516.4,352) rotate(90)" font-size="12" font-weight="bold" fill="#e8692a" stroke="#e8692a" stroke-width="0.2" font-family='"Liberation Sans", sans-serif' textLength="20.2" lengthAdjust="spacingAndGlyphs">11,2</text>
<text transform="translate(554.0,330.9) rotate(90)" font-size="19.2" font-weight="bold" fill="#9b3fb5" stroke="#9b3fb5" stroke-width="0.35" font-family='"Liberation Sans", sans-serif' textLength="21" lengthAdjust="spacingAndGlyphs">TE</text>
<text transform="translate(549.7,352) rotate(90)" font-size="12" font-weight="bold" fill="#9b3fb5" stroke="#9b3fb5" stroke-width="0.2" font-family='"Liberation Sans", sans-serif' textLength="19.3" lengthAdjust="spacingAndGlyphs">12,2</text>
<text transform="translate(586.8,330.9) rotate(90)" font-size="19.2" font-weight="bold" fill="#7b2d1f" stroke="#7b2d1f" stroke-width="0.35" font-family='"Liberation Sans", sans-serif' textLength="21" lengthAdjust="spacingAndGlyphs">TE</text>
<text transform="translate(582.5,352) rotate(90)" font-size="12" font-weight="bold" fill="#7b2d1f" stroke="#7b2d1f" stroke-width="0.2" font-family='"Liberation Sans", sans-serif' textLength="19.6" lengthAdjust="spacingAndGlyphs">13,2</text>
<text transform="translate(621.2,330.9) rotate(90)" font-size="19.2" font-weight="bold" fill="#d5302a" stroke="#d5302a" stroke-width="0.35" font-family='"Liberation Sans", sans-serif' textLength="21" lengthAdjust="spacingAndGlyphs">TE</text>
<text transform="translate(616.9,352) rotate(90)" font-size="12" font-weight="bold" fill="#d5302a" stroke="#d5302a" stroke-width="0.2" font-family='"Liberation Sans", sans-serif' textLength="19.6" lengthAdjust="spacingAndGlyphs">14,2</text>
<text transform="translate(658.0,330.9) rotate(90)" font-size="19.2" font-weight="bold" fill="#2e8635" stroke="#2e8635" stroke-width="0.35" font-family='"Liberation Sans", sans-serif' textLength="21" lengthAdjust="spacingAndGlyphs">TE</text>
<text transform="translate(653.7,352) rotate(90)" font-size="12" font-weight="bold" fill="#2e8635" stroke="#2e8635" stroke-width="0.2" font-family='"Liberation Sans", sans-serif' textLength="19.6" lengthAdjust="spacingAndGlyphs">15,2</text>
<path d="M436.00,481.00 L437.20,480.30 L437.30,392.30 L437.60,372.30 L438.10,400.00 L438.50,396.00 L438.90,418.00 L439.40,397.00 L439.90,420.00 L440.40,406.00 L440.90,426.00 L441.40,414.00 L441.90,428.00 L442.20,426.00 L442.55,428.90 L442.90,430.78 L443.25,431.02 L443.60,429.68 L443.95,427.45 L444.30,425.38 L444.65,424.45 L445.00,425.19 L445.35,427.44 L445.70,430.46 L446.05,433.16 L446.40,434.60 L446.75,434.36 L447.10,432.68 L447.45,430.38 L447.80,428.54 L448.15,428.06 L448.50,429.28 L448.85,431.85 L449.20,434.89 L449.55,437.31 L449.90,438.29 L450.25,437.58 L450.60,435.61 L450.95,433.34 L451.30,431.82 L451.65,431.82 L452.00,433.49 L452.35,436.30 L452.70,439.26 L453.05,441.34 L453.40,441.83 L453.75,440.69 L454.10,438.53 L454.45,436.36 L454.80,435.22 L455.15,435.72 L455.50,437.79 L455.85,440.76 L456.20,443.57 L456.55,445.23 L456.90,445.23 L457.25,443.71 L457.60,441.44 L457.95,439.48 L458.30,438.77 L458.65,439.74 L459.00,442.17 L459.35,445.20 L459.70,447.77 L460.05,448.99 L460.40,448.51 L460.75,446.68 L461.10,444.38 L461.45,442.69 L461.80,442.45 L462.15,443.90 L462.50,446.60 L462.85,449.61 L463.20,451.86 L463.55,452.60 L463.90,451.67 L464.25,449.60 L464.60,447.37 L464.95,446.03 L465.30,446.28 L465.65,448.15 L466.00,451.05 L466.35,453.95 L466.70,455.83 L467.05,456.07 L467.40,454.74 L467.75,452.51 L468.10,450.43 L468.45,449.50 L468.80,450.24 L469.15,452.50 L469.50,455.51 L469.85,458.21 L470.20,459.66 L470.55,459.41 L470.90,457.73 L471.25,455.43 L471.60,453.60 L471.95,453.12 L472.30,454.33 L472.65,456.90 L473.00,459.94 L473.35,462.36 L473.70,463.34 L474.05,462.63 L474.40,460.67 L475.20,466.00 L475.90,474.00 L476.40,481.00" stroke="#d8392f" stroke-width="1.3" fill="none" stroke-linejoin="round"/>
<path d="M475.10,481.00 L476.30,480.30 L476.40,414.40 L476.80,394.40 L477.10,414.00 L477.40,440.00 L477.80,416.00 L478.20,438.00 L478.60,420.00 L479.00,436.00 L479.50,422.00 L480.00,434.00 L480.50,425.00 L481.00,428.50 L481.35,430.82 L481.70,432.45 L482.05,432.93 L482.40,432.20 L482.75,430.62 L483.10,428.84 L483.45,427.56 L483.80,427.33 L484.15,428.33 L484.50,430.33 L484.85,432.74 L485.20,434.84 L485.55,436.01 L485.90,435.96 L486.25,434.80 L486.60,433.04 L486.95,431.39 L487.30,430.51 L487.65,430.81 L488.00,432.30 L488.35,434.56 L488.70,436.92 L489.05,438.68 L489.40,439.34 L489.75,438.78 L490.10,437.28 L490.45,435.48 L490.80,434.09 L491.15,433.69 L491.50,434.52 L491.85,436.41 L492.20,438.80 L492.55,440.99 L492.90,442.32 L493.25,442.44 L493.60,441.42 L493.95,439.71 L494.30,438.00 L494.65,436.98 L495.00,437.10 L495.35,438.43 L495.70,440.62 L496.05,443.01 L496.40,444.90 L496.75,445.73 L497.10,445.33 L497.45,443.94 L497.80,442.14 L498.15,440.64 L498.50,440.08 L498.85,440.74 L499.20,442.50 L499.55,444.86 L499.90,447.12 L500.25,448.61 L500.60,448.91 L500.95,448.03 L501.30,446.38 L501.65,444.62 L502.00,443.46 L502.35,443.41 L502.70,444.58 L503.05,446.68 L503.40,449.09 L503.75,451.09 L504.10,452.09 L504.45,451.87 L504.80,450.59 L505.15,448.80 L505.50,447.22 L505.85,446.49 L506.20,446.97 L506.55,448.60 L506.90,450.92 L507.25,453.24 L507.60,454.87 L507.95,455.35 L508.30,454.62 L508.65,453.04 L509.00,451.26 L509.35,449.98 L509.70,449.75 L510.05,450.75 L510.40,452.75 L510.75,455.16 L511.10,457.26 L511.45,458.43 L511.80,458.38 L512.15,457.22 L512.50,455.46 L512.85,453.81 L513.20,452.93 L513.55,453.24 L513.90,454.72 L514.25,456.98 L515.40,462.00 L516.10,470.00 L516.60,481.00" stroke="#3d8b36" stroke-width="1.3" fill="none" stroke-linejoin="round"/>
<path d="M515.40,481.00 L516.60,480.30 L516.70,408.50 L517.40,388.50 L517.70,412.00 L518.00,437.00 L518.40,414.00 L518.80,436.00 L519.20,418.00 L519.60,435.00 L520.00,424.00 L520.40,429.50 L520.75,432.47 L521.10,433.94 L521.45,433.31 L521.80,431.18 L522.15,429.06 L522.50,428.43 L522.85,429.90 L523.20,432.87 L523.55,435.84 L523.90,437.31 L524.25,436.68 L524.60,434.55 L524.95,432.43 L525.30,431.80 L525.65,433.27 L526.00,436.24 L526.35,439.21 L526.70,440.68 L527.05,440.05 L527.40,437.92 L527.75,435.80 L528.10,435.17 L528.45,436.64 L528.80,439.61 L529.15,442.58 L529.50,444.05 L529.85,443.42 L530.20,441.29 L530.55,439.17 L530.90,438.54 L531.25,440.01 L531.60,442.98 L531.95,445.94 L533.00,447.00 L534.00,455.00 L535.00,463.00 L536.00,470.00 L537.00,478.00 L537.40,481.00" stroke="#ee7a30" stroke-width="1.3" fill="none" stroke-linejoin="round"/>
<path d="M539.85,387.1V413.7M540.30,393.2V415.3M541.20,399.4V416.8M541.65,403.7V419.2M542.55,402.4V419.1M543.00,402.6V418.3M543.90,402.7V418.2M544.35,397.5V419.5M545.25,401.7V420.8M545.70,400.6V421.5M546.60,397.7V424.2M547.05,398.8V425.2M547.95,398.9V425.8M548.40,395.5V425.7M549.30,401.1V425.2M549.75,408.1V426.7M550.65,403.4V426.9M551.10,400.5V428.4M552.00,406.5V431.1M552.45,407.4V428.9M553.35,409.4V429.8M553.80,408.0V431.3M554.70,414.1V431.1M555.15,416.0V432.7M556.05,419.9V430.5M556.50,420.7V433.3M557.40,422.1V435.1M557.85,423.6V432.8M558.75,426.5V436.1M559.20,422.7V433.8M560.10,427.8V435.3M560.55,427.8V437.2M561.45,430.4V437.1M561.90,427.8V437.1M562.80,432.0V437.0M563.25,430.3V436.6M564.15,434.6V437.1M564.60,433.2V437.9M565.50,431.6V439.6M565.95,436.5V438.7M566.85,436.8V445.6M567.30,438.7V442.4" stroke="#a845c0" stroke-width="0.7" fill="none" stroke-opacity="0.9"/>
<path d="M539.40,376.9V401.0M540.75,392.7V421.9M542.10,401.2V419.1M543.45,401.3V421.0M544.80,398.6V418.2M546.15,404.3V419.1M547.50,395.8V427.5M548.85,406.4V426.3M550.20,398.7V426.3M551.55,404.3V430.5M552.90,406.4V431.5M554.25,411.9V431.1M555.60,417.1V436.9M556.95,422.4V430.5M558.30,426.3V435.2M559.65,426.0V436.6M561.00,429.9V436.8M562.35,430.4V436.0M563.70,431.5V438.1M565.05,435.4V443.6M566.40,436.7V440.1" stroke="#c77ad8" stroke-width="0.6" fill="none" stroke-opacity="0.9"/>
<path d="M536.90,481.00 L538.10,480.30 L538.20,394.30 L538.80,374.30 L539.40,381.79 L539.82,410.74 L540.24,394.10 L540.66,415.21 L541.08,398.56 L541.50,416.42 L541.92,402.24 L542.34,417.50 L542.76,402.99 L543.18,418.76 L543.60,401.47 L544.02,420.67 L544.44,401.78 L544.86,420.89 L545.28,401.18 L545.70,422.32 L546.12,399.12 L546.54,423.11 L546.96,400.56 L547.38,423.81 L547.80,400.19 L548.22,423.98 L548.64,400.17 L549.06,424.93 L549.48,401.94 L549.90,426.61 L550.32,403.03 L550.74,424.94 L551.16,404.42 L551.58,426.72 L552.00,406.90 L552.42,428.61 L552.84,408.16 L553.26,430.21 L553.68,412.53 L554.10,429.16 L554.52,414.63 L554.94,430.44 L555.36,417.70 L555.78,432.92 L556.20,419.74 L556.62,433.00 L557.04,422.49 L557.46,432.98 L557.88,425.48 L558.30,433.71 L558.72,425.85 L559.14,434.95 L559.56,427.34 L559.98,435.72 L560.40,428.28 L560.82,436.13 L561.24,429.16 L561.66,436.55 L562.08,430.49 L562.50,437.36 L562.92,432.10 L563.34,437.80 L563.76,432.86 L564.18,438.72 L564.60,433.82 L565.02,439.29 L565.44,435.12 L565.86,439.95 L566.28,435.83 L566.70,441.43 L567.12,437.73 L568.30,452.00 L569.00,470.00 L569.50,481.00" stroke="#9a3db5" stroke-width="0.9" fill="none" stroke-linejoin="bevel" stroke-opacity="0.7"/>
<path d="M573.05,380.6V436.3M573.50,380.6V431.4M574.40,378.2V416.9M574.85,380.5V428.0M575.75,378.8V428.3M576.20,395.1V418.2M577.10,383.8V426.1M577.55,381.5V420.9M578.45,388.0V422.9M578.90,388.6V426.4M579.80,399.1V427.1M580.25,395.4V430.0M581.15,404.8V428.1M581.60,402.2V428.1M582.50,409.1V422.2M582.95,405.4V425.3M583.85,406.8V425.4M584.30,411.9V424.9M585.20,406.8V429.3M585.65,409.1V430.6M586.55,408.0V430.4M587.00,411.1V430.0M587.90,403.5V431.9M588.35,399.2V436.8M589.25,401.0V430.0M589.70,404.7V439.1M590.60,395.6V432.1M591.05,407.2V442.2M591.95,406.6V443.8M592.40,396.9V436.8M593.30,398.5V445.0M593.75,399.3V446.7M594.65,400.7V441.0M595.10,405.9V449.5M596.00,415.0V453.9M596.45,420.0V454.9M597.35,425.6V460.7M597.80,424.3V456.3M598.70,429.8V459.8M599.15,433.5V455.9M600.05,436.9V464.9M600.50,440.5V463.8M601.40,447.4V464.9" stroke="#8e3a1c" stroke-width="0.7" fill="none" stroke-opacity="0.9"/>
<path d="M572.60,379.2V436.8M573.95,384.3V422.8M575.30,380.6V432.5M576.65,383.2V428.8M578.00,384.9V425.2M579.35,392.8V431.3M580.70,398.7V422.7M582.05,400.3V424.0M583.40,407.2V425.7M584.75,407.2V430.0M586.10,407.6V426.6M587.45,405.2V424.9M588.80,409.3V437.3M590.15,409.8V439.7M591.50,404.3V443.3M592.85,396.1V445.0M594.20,401.9V448.8M595.55,412.6V453.0M596.90,418.4V457.6M598.25,430.0V449.7M599.60,437.0V460.7M600.95,446.7V464.6" stroke="#b0654a" stroke-width="0.6" fill="none" stroke-opacity="0.9"/>
<path d="M570.90,481.00 L572.10,480.30 L572.20,395.00 L572.50,375.00 L572.60,382.15 L573.02,432.88 L573.44,385.88 L573.86,428.79 L574.28,383.24 L574.70,428.05 L575.12,386.82 L575.54,425.40 L575.96,383.15 L576.38,425.01 L576.80,383.90 L577.22,425.17 L577.64,387.30 L578.06,427.71 L578.48,391.55 L578.90,424.49 L579.32,391.24 L579.74,425.26 L580.16,395.72 L580.58,422.69 L581.00,400.68 L581.42,423.57 L581.84,402.34 L582.26,423.25 L582.68,406.19 L583.10,424.63 L583.52,407.00 L583.94,425.90 L584.36,408.38 L584.78,426.50 L585.20,409.28 L585.62,428.60 L586.04,409.85 L586.46,429.86 L586.88,407.19 L587.30,432.16 L587.72,404.22 L588.14,433.65 L588.56,403.13 L588.98,435.94 L589.40,402.92 L589.82,436.43 L590.24,397.88 L590.66,439.71 L591.08,398.45 L591.50,437.53 L591.92,399.44 L592.34,441.26 L592.76,396.06 L593.18,441.68 L593.60,400.68 L594.02,444.70 L594.44,406.18 L594.86,447.20 L595.28,410.39 L595.70,448.61 L596.12,415.35 L596.54,453.49 L596.96,422.54 L597.38,456.25 L597.80,425.16 L598.22,455.64 L598.64,429.41 L599.06,457.68 L599.48,436.63 L599.90,460.98 L600.32,440.60 L600.74,461.43 L601.16,447.59 L601.58,464.07 L602.30,470.00 L602.80,481.00" stroke="#7d3218" stroke-width="0.9" fill="none" stroke-linejoin="bevel" stroke-opacity="0.7"/>
<path d="M605.65,373.5V405.8M606.10,383.1V405.9M607.00,373.2V417.3M607.45,376.2V418.6M608.35,371.0V420.3M608.80,371.4V424.8M609.70,368.6V424.5M610.15,368.7V423.6M611.05,376.4V424.0M611.50,381.4V429.8M612.40,394.8V423.1M612.85,390.3V427.8M613.75,387.3V424.4M614.20,389.7V415.2M615.10,390.4V424.1M615.55,399.8V426.5M616.45,405.1V425.8M616.90,398.4V426.8M617.80,399.6V434.5M618.25,400.6V433.5M619.15,401.8V435.6M619.60,400.4V439.9M620.50,399.3V437.3M620.95,399.5V432.9M621.85,390.6V438.0M622.30,386.7V426.0M623.20,380.1V441.9M623.65,379.4V442.0M624.55,375.4V428.1M625.00,372.7V441.9M625.90,371.5V442.3M626.35,370.1V444.4M627.25,376.3V446.1M627.70,379.6V444.9M628.60,381.3V450.0M629.05,382.4V450.9M629.95,389.0V451.0M630.40,390.0V450.6M631.30,413.1V441.6M631.75,399.6V453.1M632.65,405.5V458.5M633.10,407.0V457.1M634.00,425.8V450.8M634.45,419.2V460.4M635.35,426.1V459.5M635.80,428.3V458.2" stroke="#e2372d" stroke-width="0.7" fill="none" stroke-opacity="0.9"/>
<path d="M605.20,377.5V411.0M606.55,374.1V408.5M607.90,375.6V420.1M609.25,383.1V422.2M610.60,375.5V425.5M611.95,380.6V423.2M613.30,385.2V422.5M614.65,389.1V417.0M616.00,392.4V425.8M617.35,400.2V429.6M618.70,406.4V436.2M620.05,410.5V435.6M621.40,392.7V441.8M622.75,385.1V444.4M624.10,377.3V441.4M625.45,371.4V442.4M626.80,369.2V444.3M628.15,389.9V445.7M629.50,390.9V451.6M630.85,391.5V444.2M632.20,403.3V457.4M633.55,409.5V455.0M634.90,418.1V456.6" stroke="#f07060" stroke-width="0.6" fill="none" stroke-opacity="0.9"/>
<path d="M603.30,481.00 L604.50,480.30 L604.60,396.50 L605.00,376.50 L605.20,379.92 L605.62,411.25 L606.04,377.13 L606.46,416.03 L606.88,377.44 L607.30,417.89 L607.72,379.82 L608.14,417.06 L608.56,378.18 L608.98,417.82 L609.40,371.28 L609.82,418.68 L610.24,372.03 L610.66,422.41 L611.08,377.58 L611.50,423.95 L611.92,382.08 L612.34,419.67 L612.76,385.66 L613.18,419.17 L613.60,391.51 L614.02,422.13 L614.44,391.96 L614.86,424.64 L615.28,390.86 L615.70,427.41 L616.12,394.32 L616.54,430.38 L616.96,401.20 L617.38,432.40 L617.80,402.01 L618.22,433.33 L618.64,401.82 L619.06,434.36 L619.48,401.82 L619.90,432.87 L620.32,401.13 L620.74,435.51 L621.16,399.57 L621.58,435.91 L622.00,392.87 L622.42,438.59 L622.84,384.22 L623.26,434.82 L623.68,380.39 L624.10,438.60 L624.52,381.69 L624.94,438.12 L625.36,380.38 L625.78,436.99 L626.20,375.16 L626.62,444.09 L627.04,378.73 L627.46,442.31 L627.88,386.19 L628.30,443.24 L628.72,388.64 L629.14,442.52 L629.56,390.54 L629.98,443.80 L630.40,397.64 L630.82,450.76 L631.24,402.10 L631.66,447.93 L632.08,406.10 L632.50,452.98 L632.92,407.92 L633.34,455.30 L633.76,414.29 L634.18,452.86 L634.60,420.50 L635.02,458.66 L635.44,426.76 L635.86,459.93 L636.80,466.00 L637.30,481.00" stroke="#d22f28" stroke-width="0.9" fill="none" stroke-linejoin="bevel" stroke-opacity="0.7"/>
<path d="M639.85,369.0V426.5M640.30,359.5V424.8M641.20,361.4V417.8M641.65,358.7V424.8M642.55,362.0V424.5M643.00,366.1V425.7M643.90,373.6V424.7M644.35,369.2V410.2M645.25,385.1V426.2M645.70,374.0V424.4M646.60,383.8V426.4M647.05,387.8V429.1M647.95,390.0V428.8M648.40,378.8V430.7M649.30,382.5V416.6M649.75,386.9V423.3M650.65,384.5V431.9M651.10,391.2V432.2M652.00,397.3V430.2M652.45,391.5V433.1M653.35,388.5V434.3M653.80,393.1V435.0M654.70,393.4V431.7M655.15,396.2V437.7M656.05,398.7V436.6M656.50,395.9V436.9M657.40,397.4V435.3M657.85,396.3V430.5M658.75,398.8V442.3M659.20,396.3V442.4M660.10,398.7V445.1M660.55,398.5V445.5M661.45,399.1V446.7M661.90,397.9V447.3M662.80,410.9V447.6M663.25,413.3V447.6M664.15,399.2V450.4M664.60,408.0V450.7M665.50,413.8V451.8M665.95,404.8V456.8M666.85,408.3V441.5M667.30,416.5V448.9" stroke="#3d8d36" stroke-width="0.7" fill="none" stroke-opacity="0.9"/>
<path d="M639.40,365.8V422.2M640.75,376.5V425.9M642.10,358.4V409.9M643.45,367.1V414.7M644.80,372.1V422.5M646.15,375.9V424.9M647.50,381.5V425.4M648.85,380.5V416.1M650.20,397.7V427.8M651.55,395.9V431.4M652.90,396.0V436.0M654.25,391.2V439.2M655.60,401.1V437.4M656.95,396.3V426.7M658.30,400.0V442.4M659.65,395.7V434.0M661.00,395.9V446.3M662.35,399.3V451.1M663.70,396.4V450.2M665.05,400.6V437.3M666.40,407.3V459.7M667.75,401.3V456.1" stroke="#6aaa60" stroke-width="0.6" fill="none" stroke-opacity="0.9"/>
<path d="M637.20,481.00 L638.40,480.30 L638.50,382.70 L639.20,362.70 L639.40,363.03 L639.82,418.43 L640.24,362.71 L640.66,421.53 L641.08,365.53 L641.50,421.53 L641.92,363.23 L642.34,421.59 L642.76,368.12 L643.18,419.46 L643.60,368.13 L644.02,420.83 L644.44,372.36 L644.86,422.36 L645.28,378.41 L645.70,421.66 L646.12,379.23 L646.54,421.11 L646.96,383.34 L647.38,423.87 L647.80,383.70 L648.22,424.44 L648.64,385.24 L649.06,424.36 L649.48,387.03 L649.90,426.14 L650.32,389.01 L650.74,425.27 L651.16,391.56 L651.58,426.88 L652.00,394.22 L652.42,431.31 L652.84,393.68 L653.26,429.10 L653.68,396.52 L654.10,434.46 L654.52,394.30 L654.94,434.18 L655.36,395.14 L655.78,436.44 L656.20,395.79 L656.62,435.46 L657.04,400.14 L657.46,435.47 L657.88,397.51 L658.30,437.63 L658.72,400.87 L659.14,441.94 L659.56,402.77 L659.98,438.67 L660.40,399.62 L660.82,439.93 L661.24,400.88 L661.66,443.79 L662.08,404.59 L662.50,443.01 L662.92,400.02 L663.34,446.62 L663.76,402.41 L664.18,448.44 L664.60,400.71 L665.02,449.86 L665.44,404.43 L665.86,454.01 L666.28,403.90 L666.70,453.46 L667.12,400.78 L667.54,456.39 L668.20,470.00 L668.50,481.00" stroke="#338030" stroke-width="0.9" fill="none" stroke-linejoin="bevel" stroke-opacity="0.7"/>
<line x1="424.6" y1="480.6" x2="625" y2="480.6" stroke="#5d9a58" stroke-width="2"/>
<line x1="625" y1="480.6" x2="674.3" y2="480.6" stroke="#c96a60" stroke-width="1.8"/>
<rect x="424.6" y="329.2" width="249.7" height="152.1" fill="none" stroke="#3a3a3a" stroke-width="1.2"/>
<path d="M464,475.6 Q474.5,466.6 482.2,472.4" stroke="#111" stroke-width="2.1" fill="none"/>
<polygon points="486.5,477 483.3,468.6 478.6,474.4" fill="#111"/>
<path d="M503.7,475.6 Q514.2,466.6 521.9,472.4" stroke="#111" stroke-width="2.1" fill="none"/>
<polygon points="526.2,477 523.0,468.6 518.3,474.4" fill="#111"/>
<path d="M528.2,475.6 Q538.7,466.6 546.4000000000001,472.4" stroke="#111" stroke-width="2.1" fill="none"/>
<polygon points="550.7,477 547.5,468.6 542.8000000000001,474.4" fill="#111"/>
<path d="M558.9,475.6 Q569.4,466.6 577.1,472.4" stroke="#111" stroke-width="2.1" fill="none"/>
<polygon points="581.4,477 578.1999999999999,468.6 573.5,474.4" fill="#111"/>
<path d="M591.5,475.6 Q602.0,466.6 609.7,472.4" stroke="#111" stroke-width="2.1" fill="none"/>
<polygon points="614.0,477 610.8,468.6 606.1,474.4" fill="#111"/>
<path d="M626.5,475.6 Q637.0,466.6 644.7,472.4" stroke="#111" stroke-width="2.1" fill="none"/>
<polygon points="649.0,477 645.8,468.6 641.1,474.4" fill="#111"/>
<text x="429.9" y="497.1" font-size="11.4" text-anchor="middle" fill="#111" font-family='"Liberation Sans", sans-serif' >11</text>
<text x="469.7" y="497.1" font-size="11.4" text-anchor="middle" fill="#111" font-family='"Liberation Sans", sans-serif' >12</text>
<text x="509.5" y="497.1" font-size="11.4" text-anchor="middle" fill="#111" font-family='"Liberation Sans", sans-serif' >13</text>
<text x="549.3" y="497.1" font-size="11.4" text-anchor="middle" fill="#111" font-family='"Liberation Sans", sans-serif' >14</text>
<text x="589.1" y="497.1" font-size="11.4" text-anchor="middle" fill="#111" font-family='"Liberation Sans", sans-serif' >15</text>
<text x="628.9" y="497.1" font-size="11.4" text-anchor="middle" fill="#111" font-family='"Liberation Sans", sans-serif' >16</text>
<text x="668.7" y="497.1" font-size="11.4" text-anchor="middle" fill="#111" font-family='"Liberation Sans", sans-serif' >17</text>
<text x="421" y="485.2" font-size="11.3" text-anchor="end" fill="#111" font-family='"Liberation Sans", sans-serif' >0</text>
<text x="421" y="452.1" font-size="11.3" text-anchor="end" fill="#111" font-family='"Liberation Sans", sans-serif' >1</text>
<text x="421" y="419.0" font-size="11.3" text-anchor="end" fill="#111" font-family='"Liberation Sans", sans-serif' >2</text>
<text x="421" y="385.9" font-size="11.3" text-anchor="end" fill="#111" font-family='"Liberation Sans", sans-serif' >3</text>
<text x="421" y="352.8" font-size="11.3" text-anchor="end" fill="#111" font-family='"Liberation Sans", sans-serif' >4</text>
<text x="535.3" y="526.4" font-size="16.2" fill="#111" stroke="#111" stroke-width="0.2" font-family='"Liberation Sans", sans-serif' textLength="40.6" lengthAdjust="spacingAndGlyphs">B<tspan font-size="10.5" dy="3">0</tspan><tspan dy="-3"> (T)</tspan></text>
<text transform="translate(385.2,434.3) rotate(-90)" font-size="16.9" fill="#111" stroke="#111" stroke-width="0.2" font-family='"Liberation Sans", sans-serif'>P (kW)</text>
</svg></body></html>
